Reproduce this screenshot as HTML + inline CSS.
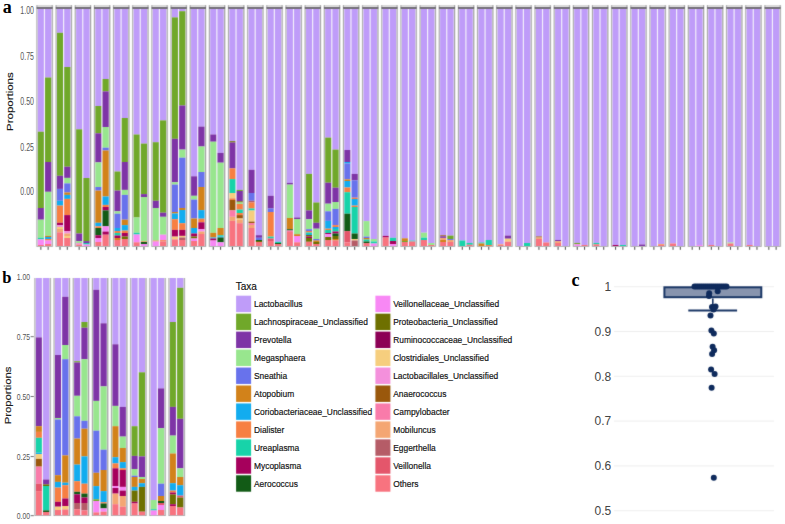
<!DOCTYPE html>
<html><head><meta charset="utf-8"><style>
html,body{margin:0;padding:0;background:#fff;}
svg{display:block;}
#w{width:785px;height:524px;}
</style></head><body><div id="w">
<svg width="785" height="524" viewBox="0 0 785 524" font-family="Liberation Sans, sans-serif">
<defs><filter id="bl" x="0" y="0" width="785" height="524" filterUnits="userSpaceOnUse" color-interpolation-filters="sRGB"><feConvolveMatrix order="3" kernelMatrix="0.015 0.07 0.015 0.07 0.66 0.07 0.015 0.07 0.015" edgeMode="duplicate"/></filter></defs>
<rect width="785" height="524" fill="#ffffff"/>
<g filter="url(#bl)">
<rect width="785" height="524" fill="#ffffff"/>
<rect x="35.95" y="8.70" width="17.40" height="238.10" fill="#E2E2E2"/>
<rect x="36.55" y="8.70" width="16.20" height="238.10" fill="#A8A8A8"/>
<rect x="37.45" y="8.70" width="14.20" height="237.30" fill="#F2EEFB"/>
<rect x="37.85" y="8.70" width="6.00" height="123.00" fill="#BF9CF9"/>
<rect x="37.85" y="131.70" width="6.00" height="76.30" fill="#70A82A"/>
<rect x="37.85" y="208.00" width="6.00" height="11.70" fill="#7E34A6"/>
<rect x="37.85" y="219.70" width="6.00" height="18.10" fill="#98E68E"/>
<rect x="37.85" y="237.80" width="6.00" height="1.60" fill="#17D3A9"/>
<rect x="37.85" y="239.40" width="6.00" height="5.60" fill="#F888F5"/>
<rect x="37.85" y="245.00" width="6.00" height="1.00" fill="#F8737F"/>
<rect x="40.30" y="246.90" width="1.10" height="2.90" fill="#5A5A5A"/>
<rect x="45.05" y="8.70" width="6.20" height="68.80" fill="#BF9CF9"/>
<rect x="45.05" y="77.50" width="6.20" height="84.50" fill="#70A82A"/>
<rect x="45.05" y="162.00" width="6.20" height="29.80" fill="#7E34A6"/>
<rect x="45.05" y="191.80" width="6.20" height="44.10" fill="#98E68E"/>
<rect x="45.05" y="235.90" width="6.20" height="1.10" fill="#D2821A"/>
<rect x="45.05" y="237.00" width="6.20" height="2.00" fill="#12ACEF"/>
<rect x="45.05" y="239.00" width="6.20" height="1.50" fill="#F77F42"/>
<rect x="45.05" y="240.50" width="6.20" height="3.50" fill="#F888F5"/>
<rect x="45.05" y="244.00" width="6.20" height="2.00" fill="#F8737F"/>
<rect x="47.60" y="246.90" width="1.10" height="2.90" fill="#5A5A5A"/>
<rect x="35.95" y="5.10" width="17.40" height="3.60" fill="#E2E2E2"/>
<rect x="36.55" y="5.10" width="16.20" height="3.60" fill="#A8A8A8"/>
<rect x="37.45" y="5.10" width="14.20" height="2.20" fill="#DEDEDE"/>
<rect x="36.55" y="7.30" width="16.20" height="1.40" fill="#57525F"/>
<rect x="55.11" y="8.70" width="17.40" height="238.10" fill="#E2E2E2"/>
<rect x="55.71" y="8.70" width="16.20" height="238.10" fill="#A8A8A8"/>
<rect x="56.61" y="8.70" width="14.20" height="237.30" fill="#F2EEFB"/>
<rect x="57.01" y="8.70" width="6.00" height="24.10" fill="#BF9CF9"/>
<rect x="57.01" y="32.80" width="6.00" height="143.00" fill="#70A82A"/>
<rect x="57.01" y="175.80" width="6.00" height="13.10" fill="#7E34A6"/>
<rect x="57.01" y="188.90" width="6.00" height="11.90" fill="#6872EC"/>
<rect x="57.01" y="200.80" width="6.00" height="4.80" fill="#12ACEF"/>
<rect x="57.01" y="205.60" width="6.00" height="17.20" fill="#F77F42"/>
<rect x="57.01" y="222.80" width="6.00" height="2.30" fill="#A6005C"/>
<rect x="57.01" y="225.10" width="6.00" height="1.90" fill="#F490DC"/>
<rect x="57.01" y="227.00" width="6.00" height="2.00" fill="#F6CE7E"/>
<rect x="57.01" y="229.00" width="6.00" height="3.30" fill="#F4A673"/>
<rect x="57.01" y="232.30" width="6.00" height="13.70" fill="#F8737F"/>
<rect x="59.46" y="246.90" width="1.10" height="2.90" fill="#5A5A5A"/>
<rect x="64.21" y="8.70" width="6.20" height="58.30" fill="#BF9CF9"/>
<rect x="64.21" y="67.00" width="6.20" height="99.70" fill="#70A82A"/>
<rect x="64.21" y="166.70" width="6.20" height="11.20" fill="#7E34A6"/>
<rect x="64.21" y="177.90" width="6.20" height="5.50" fill="#98E68E"/>
<rect x="64.21" y="183.40" width="6.20" height="9.10" fill="#6872EC"/>
<rect x="64.21" y="192.50" width="6.20" height="2.40" fill="#D2821A"/>
<rect x="64.21" y="194.90" width="6.20" height="4.00" fill="#12ACEF"/>
<rect x="64.21" y="198.90" width="6.20" height="16.20" fill="#F77F42"/>
<rect x="64.21" y="215.10" width="6.20" height="16.00" fill="#A6005C"/>
<rect x="64.21" y="231.10" width="6.20" height="2.40" fill="#F490DC"/>
<rect x="64.21" y="233.50" width="6.20" height="2.50" fill="#F4A673"/>
<rect x="64.21" y="236.00" width="6.20" height="2.00" fill="#F6CE7E"/>
<rect x="64.21" y="238.00" width="6.20" height="8.00" fill="#F8737F"/>
<rect x="66.76" y="246.90" width="1.10" height="2.90" fill="#5A5A5A"/>
<rect x="55.11" y="5.10" width="17.40" height="3.60" fill="#E2E2E2"/>
<rect x="55.71" y="5.10" width="16.20" height="3.60" fill="#A8A8A8"/>
<rect x="56.61" y="5.10" width="14.20" height="2.20" fill="#DEDEDE"/>
<rect x="55.71" y="7.30" width="16.20" height="1.40" fill="#57525F"/>
<rect x="74.26" y="8.70" width="17.40" height="238.10" fill="#E2E2E2"/>
<rect x="74.86" y="8.70" width="16.20" height="238.10" fill="#A8A8A8"/>
<rect x="75.76" y="8.70" width="14.20" height="237.30" fill="#F2EEFB"/>
<rect x="76.16" y="8.70" width="6.00" height="120.60" fill="#BF9CF9"/>
<rect x="76.16" y="129.30" width="6.00" height="104.20" fill="#70A82A"/>
<rect x="76.16" y="233.50" width="6.00" height="7.60" fill="#7E34A6"/>
<rect x="76.16" y="241.10" width="6.00" height="1.90" fill="#98E68E"/>
<rect x="76.16" y="243.00" width="6.00" height="1.50" fill="#F490DC"/>
<rect x="76.16" y="244.50" width="6.00" height="1.50" fill="#F8737F"/>
<rect x="78.61" y="246.90" width="1.10" height="2.90" fill="#5A5A5A"/>
<rect x="83.36" y="8.70" width="6.20" height="169.30" fill="#BF9CF9"/>
<rect x="83.36" y="178.00" width="6.20" height="63.10" fill="#70A82A"/>
<rect x="83.36" y="241.10" width="6.20" height="1.90" fill="#7E34A6"/>
<rect x="83.36" y="243.00" width="6.20" height="1.50" fill="#17D3A9"/>
<rect x="83.36" y="244.50" width="6.20" height="1.50" fill="#F888F5"/>
<rect x="85.91" y="246.90" width="1.10" height="2.90" fill="#5A5A5A"/>
<rect x="74.26" y="5.10" width="17.40" height="3.60" fill="#E2E2E2"/>
<rect x="74.86" y="5.10" width="16.20" height="3.60" fill="#A8A8A8"/>
<rect x="75.76" y="5.10" width="14.20" height="2.20" fill="#DEDEDE"/>
<rect x="74.86" y="7.30" width="16.20" height="1.40" fill="#57525F"/>
<rect x="93.42" y="8.70" width="17.40" height="238.10" fill="#E2E2E2"/>
<rect x="94.02" y="8.70" width="16.20" height="238.10" fill="#A8A8A8"/>
<rect x="94.92" y="8.70" width="14.20" height="237.30" fill="#F2EEFB"/>
<rect x="95.32" y="8.70" width="6.00" height="97.30" fill="#BF9CF9"/>
<rect x="95.32" y="106.00" width="6.00" height="27.30" fill="#70A82A"/>
<rect x="95.32" y="133.30" width="6.00" height="29.10" fill="#7E34A6"/>
<rect x="95.32" y="162.40" width="6.00" height="24.60" fill="#98E68E"/>
<rect x="95.32" y="187.00" width="6.00" height="3.60" fill="#6872EC"/>
<rect x="95.32" y="190.60" width="6.00" height="32.20" fill="#D2821A"/>
<rect x="95.32" y="222.80" width="6.00" height="3.50" fill="#12ACEF"/>
<rect x="95.32" y="226.30" width="6.00" height="1.70" fill="#F77F42"/>
<rect x="95.32" y="228.00" width="6.00" height="7.20" fill="#125B16"/>
<rect x="95.32" y="235.20" width="6.00" height="2.80" fill="#A6005C"/>
<rect x="95.32" y="238.00" width="6.00" height="4.00" fill="#F888F5"/>
<rect x="95.32" y="242.00" width="6.00" height="4.00" fill="#F8737F"/>
<rect x="97.77" y="246.90" width="1.10" height="2.90" fill="#5A5A5A"/>
<rect x="102.52" y="8.70" width="6.20" height="70.30" fill="#BF9CF9"/>
<rect x="102.52" y="79.00" width="6.20" height="12.40" fill="#70A82A"/>
<rect x="102.52" y="91.40" width="6.20" height="35.60" fill="#7E34A6"/>
<rect x="102.52" y="127.00" width="6.20" height="20.70" fill="#98E68E"/>
<rect x="102.52" y="147.70" width="6.20" height="2.80" fill="#6872EC"/>
<rect x="102.52" y="150.50" width="6.20" height="46.00" fill="#D2821A"/>
<rect x="102.52" y="196.50" width="6.20" height="8.40" fill="#12ACEF"/>
<rect x="102.52" y="204.90" width="6.20" height="2.10" fill="#F77F42"/>
<rect x="102.52" y="207.00" width="6.20" height="3.40" fill="#A6005C"/>
<rect x="102.52" y="210.40" width="6.20" height="15.90" fill="#125B16"/>
<rect x="102.52" y="226.30" width="6.20" height="5.30" fill="#F888F5"/>
<rect x="102.52" y="231.60" width="6.20" height="3.10" fill="#A6005C"/>
<rect x="102.52" y="234.70" width="6.20" height="11.30" fill="#F8737F"/>
<rect x="105.07" y="246.90" width="1.10" height="2.90" fill="#5A5A5A"/>
<rect x="93.42" y="5.10" width="17.40" height="3.60" fill="#E2E2E2"/>
<rect x="94.02" y="5.10" width="16.20" height="3.60" fill="#A8A8A8"/>
<rect x="94.92" y="5.10" width="14.20" height="2.20" fill="#DEDEDE"/>
<rect x="94.02" y="7.30" width="16.20" height="1.40" fill="#57525F"/>
<rect x="112.58" y="8.70" width="17.40" height="238.10" fill="#E2E2E2"/>
<rect x="113.18" y="8.70" width="16.20" height="238.10" fill="#A8A8A8"/>
<rect x="114.08" y="8.70" width="14.20" height="237.30" fill="#F2EEFB"/>
<rect x="114.48" y="8.70" width="6.00" height="162.80" fill="#BF9CF9"/>
<rect x="114.48" y="171.50" width="6.00" height="19.10" fill="#70A82A"/>
<rect x="114.48" y="190.60" width="6.00" height="20.70" fill="#7E34A6"/>
<rect x="114.48" y="211.30" width="6.00" height="2.40" fill="#98E68E"/>
<rect x="114.48" y="213.70" width="6.00" height="14.30" fill="#6872EC"/>
<rect x="114.48" y="228.00" width="6.00" height="3.00" fill="#12ACEF"/>
<rect x="114.48" y="231.00" width="6.00" height="2.00" fill="#F77F42"/>
<rect x="114.48" y="233.00" width="6.00" height="2.50" fill="#17D3A9"/>
<rect x="114.48" y="235.50" width="6.00" height="2.50" fill="#A6005C"/>
<rect x="114.48" y="238.00" width="6.00" height="2.00" fill="#D2821A"/>
<rect x="114.48" y="240.00" width="6.00" height="6.00" fill="#F8737F"/>
<rect x="116.93" y="246.90" width="1.10" height="2.90" fill="#5A5A5A"/>
<rect x="121.68" y="8.70" width="6.20" height="109.30" fill="#BF9CF9"/>
<rect x="121.68" y="118.00" width="6.20" height="44.00" fill="#70A82A"/>
<rect x="121.68" y="162.00" width="6.20" height="27.90" fill="#7E34A6"/>
<rect x="121.68" y="189.90" width="6.20" height="5.00" fill="#98E68E"/>
<rect x="121.68" y="194.90" width="6.20" height="24.80" fill="#6872EC"/>
<rect x="121.68" y="219.70" width="6.20" height="5.40" fill="#D2821A"/>
<rect x="121.68" y="225.10" width="6.20" height="5.50" fill="#12ACEF"/>
<rect x="121.68" y="230.60" width="6.20" height="2.40" fill="#F77F42"/>
<rect x="121.68" y="233.00" width="6.20" height="3.50" fill="#A6005C"/>
<rect x="121.68" y="236.50" width="6.20" height="2.50" fill="#6E7000"/>
<rect x="121.68" y="239.00" width="6.20" height="7.00" fill="#F8737F"/>
<rect x="124.23" y="246.90" width="1.10" height="2.90" fill="#5A5A5A"/>
<rect x="112.58" y="5.10" width="17.40" height="3.60" fill="#E2E2E2"/>
<rect x="113.18" y="5.10" width="16.20" height="3.60" fill="#A8A8A8"/>
<rect x="114.08" y="5.10" width="14.20" height="2.20" fill="#DEDEDE"/>
<rect x="113.18" y="7.30" width="16.20" height="1.40" fill="#57525F"/>
<rect x="131.74" y="8.70" width="17.40" height="238.10" fill="#E2E2E2"/>
<rect x="132.34" y="8.70" width="16.20" height="238.10" fill="#A8A8A8"/>
<rect x="133.24" y="8.70" width="14.20" height="237.30" fill="#F2EEFB"/>
<rect x="133.64" y="8.70" width="6.00" height="125.80" fill="#BF9CF9"/>
<rect x="133.64" y="134.50" width="6.00" height="83.00" fill="#70A82A"/>
<rect x="133.64" y="217.50" width="6.00" height="15.30" fill="#98E68E"/>
<rect x="133.64" y="232.80" width="6.00" height="1.70" fill="#17D3A9"/>
<rect x="133.64" y="234.50" width="6.00" height="7.80" fill="#F888F5"/>
<rect x="133.64" y="242.30" width="6.00" height="3.70" fill="#F8737F"/>
<rect x="136.09" y="246.90" width="1.10" height="2.90" fill="#5A5A5A"/>
<rect x="140.84" y="8.70" width="6.20" height="134.90" fill="#BF9CF9"/>
<rect x="140.84" y="143.60" width="6.20" height="50.50" fill="#70A82A"/>
<rect x="140.84" y="194.10" width="6.20" height="2.90" fill="#7E34A6"/>
<rect x="140.84" y="197.00" width="6.20" height="44.40" fill="#98E68E"/>
<rect x="140.84" y="241.40" width="6.20" height="0.60" fill="#F77F42"/>
<rect x="140.84" y="242.00" width="6.20" height="2.00" fill="#125B16"/>
<rect x="140.84" y="244.00" width="6.20" height="2.00" fill="#F888F5"/>
<rect x="143.38" y="246.90" width="1.10" height="2.90" fill="#5A5A5A"/>
<rect x="131.74" y="5.10" width="17.40" height="3.60" fill="#E2E2E2"/>
<rect x="132.34" y="5.10" width="16.20" height="3.60" fill="#A8A8A8"/>
<rect x="133.24" y="5.10" width="14.20" height="2.20" fill="#DEDEDE"/>
<rect x="132.34" y="7.30" width="16.20" height="1.40" fill="#57525F"/>
<rect x="150.89" y="8.70" width="17.40" height="238.10" fill="#E2E2E2"/>
<rect x="151.49" y="8.70" width="16.20" height="238.10" fill="#A8A8A8"/>
<rect x="152.39" y="8.70" width="14.20" height="237.30" fill="#F2EEFB"/>
<rect x="152.79" y="8.70" width="6.00" height="133.50" fill="#BF9CF9"/>
<rect x="152.79" y="142.20" width="6.00" height="58.60" fill="#70A82A"/>
<rect x="152.79" y="200.80" width="6.00" height="7.20" fill="#7E34A6"/>
<rect x="152.79" y="208.00" width="6.00" height="32.60" fill="#98E68E"/>
<rect x="152.79" y="240.60" width="6.00" height="0.90" fill="#F77F42"/>
<rect x="152.79" y="241.50" width="6.00" height="4.50" fill="#F888F5"/>
<rect x="155.24" y="246.90" width="1.10" height="2.90" fill="#5A5A5A"/>
<rect x="159.99" y="8.70" width="6.20" height="111.70" fill="#BF9CF9"/>
<rect x="159.99" y="120.40" width="6.20" height="92.30" fill="#70A82A"/>
<rect x="159.99" y="212.70" width="6.20" height="4.10" fill="#7E34A6"/>
<rect x="159.99" y="216.80" width="6.20" height="17.90" fill="#98E68E"/>
<rect x="159.99" y="234.70" width="6.20" height="5.50" fill="#F888F5"/>
<rect x="159.99" y="240.20" width="6.20" height="1.30" fill="#F77F42"/>
<rect x="159.99" y="241.50" width="6.20" height="4.50" fill="#F8737F"/>
<rect x="162.54" y="246.90" width="1.10" height="2.90" fill="#5A5A5A"/>
<rect x="150.89" y="5.10" width="17.40" height="3.60" fill="#E2E2E2"/>
<rect x="151.49" y="5.10" width="16.20" height="3.60" fill="#A8A8A8"/>
<rect x="152.39" y="5.10" width="14.20" height="2.20" fill="#DEDEDE"/>
<rect x="151.49" y="7.30" width="16.20" height="1.40" fill="#57525F"/>
<rect x="170.05" y="8.70" width="17.40" height="238.10" fill="#E2E2E2"/>
<rect x="170.65" y="8.70" width="16.20" height="238.10" fill="#A8A8A8"/>
<rect x="171.55" y="8.70" width="14.20" height="237.30" fill="#F2EEFB"/>
<rect x="171.95" y="8.70" width="6.00" height="8.70" fill="#BF9CF9"/>
<rect x="171.95" y="17.40" width="6.00" height="121.40" fill="#70A82A"/>
<rect x="171.95" y="138.80" width="6.00" height="43.40" fill="#7E34A6"/>
<rect x="171.95" y="182.20" width="6.00" height="2.40" fill="#98E68E"/>
<rect x="171.95" y="184.60" width="6.00" height="27.40" fill="#6872EC"/>
<rect x="171.95" y="212.00" width="6.00" height="1.50" fill="#D2821A"/>
<rect x="171.95" y="213.50" width="6.00" height="5.70" fill="#12ACEF"/>
<rect x="171.95" y="219.20" width="6.00" height="10.70" fill="#F77F42"/>
<rect x="171.95" y="229.90" width="6.00" height="6.70" fill="#A6005C"/>
<rect x="171.95" y="236.60" width="6.00" height="2.80" fill="#F6CE7E"/>
<rect x="171.95" y="239.40" width="6.00" height="6.60" fill="#F8737F"/>
<rect x="174.40" y="246.90" width="1.10" height="2.90" fill="#5A5A5A"/>
<rect x="179.15" y="8.70" width="6.20" height="2.50" fill="#BF9CF9"/>
<rect x="179.15" y="11.20" width="6.20" height="94.30" fill="#70A82A"/>
<rect x="179.15" y="105.50" width="6.20" height="44.10" fill="#7E34A6"/>
<rect x="179.15" y="149.60" width="6.20" height="8.10" fill="#98E68E"/>
<rect x="179.15" y="157.70" width="6.20" height="50.30" fill="#6872EC"/>
<rect x="179.15" y="208.00" width="6.20" height="2.00" fill="#D2821A"/>
<rect x="179.15" y="210.00" width="6.20" height="13.20" fill="#12ACEF"/>
<rect x="179.15" y="223.20" width="6.20" height="6.70" fill="#F77F42"/>
<rect x="179.15" y="229.90" width="6.20" height="6.00" fill="#A6005C"/>
<rect x="179.15" y="235.90" width="6.20" height="1.60" fill="#F6CE7E"/>
<rect x="179.15" y="237.50" width="6.20" height="2.50" fill="#B55C67"/>
<rect x="179.15" y="240.00" width="6.20" height="6.00" fill="#F8737F"/>
<rect x="181.70" y="246.90" width="1.10" height="2.90" fill="#5A5A5A"/>
<rect x="170.05" y="5.10" width="17.40" height="3.60" fill="#E2E2E2"/>
<rect x="170.65" y="5.10" width="16.20" height="3.60" fill="#A8A8A8"/>
<rect x="171.55" y="5.10" width="14.20" height="2.20" fill="#DEDEDE"/>
<rect x="170.65" y="7.30" width="16.20" height="1.40" fill="#57525F"/>
<rect x="189.21" y="8.70" width="17.40" height="238.10" fill="#E2E2E2"/>
<rect x="189.81" y="8.70" width="16.20" height="238.10" fill="#A8A8A8"/>
<rect x="190.71" y="8.70" width="14.20" height="237.30" fill="#F2EEFB"/>
<rect x="191.11" y="8.70" width="6.00" height="167.60" fill="#BF9CF9"/>
<rect x="191.11" y="176.30" width="6.00" height="19.50" fill="#7E34A6"/>
<rect x="191.11" y="195.80" width="6.00" height="3.80" fill="#98E68E"/>
<rect x="191.11" y="199.60" width="6.00" height="18.90" fill="#6872EC"/>
<rect x="191.11" y="218.50" width="6.00" height="9.50" fill="#D2821A"/>
<rect x="191.11" y="228.00" width="6.00" height="5.50" fill="#12ACEF"/>
<rect x="191.11" y="233.50" width="6.00" height="3.00" fill="#A6005C"/>
<rect x="191.11" y="236.50" width="6.00" height="2.00" fill="#6E7000"/>
<rect x="191.11" y="238.50" width="6.00" height="2.50" fill="#F888F5"/>
<rect x="191.11" y="241.00" width="6.00" height="5.00" fill="#F8737F"/>
<rect x="193.56" y="246.90" width="1.10" height="2.90" fill="#5A5A5A"/>
<rect x="198.31" y="8.70" width="6.20" height="117.90" fill="#BF9CF9"/>
<rect x="198.31" y="126.60" width="6.20" height="19.90" fill="#7E34A6"/>
<rect x="198.31" y="146.50" width="6.20" height="25.50" fill="#98E68E"/>
<rect x="198.31" y="172.00" width="6.20" height="15.00" fill="#6872EC"/>
<rect x="198.31" y="187.00" width="6.20" height="23.10" fill="#D2821A"/>
<rect x="198.31" y="210.10" width="6.20" height="8.60" fill="#12ACEF"/>
<rect x="198.31" y="218.70" width="6.20" height="3.60" fill="#F77F42"/>
<rect x="198.31" y="222.30" width="6.20" height="6.90" fill="#A6005C"/>
<rect x="198.31" y="229.20" width="6.20" height="2.30" fill="#F888F5"/>
<rect x="198.31" y="231.50" width="6.20" height="2.50" fill="#F4A673"/>
<rect x="198.31" y="234.00" width="6.20" height="12.00" fill="#F8737F"/>
<rect x="200.86" y="246.90" width="1.10" height="2.90" fill="#5A5A5A"/>
<rect x="189.21" y="5.10" width="17.40" height="3.60" fill="#E2E2E2"/>
<rect x="189.81" y="5.10" width="16.20" height="3.60" fill="#A8A8A8"/>
<rect x="190.71" y="5.10" width="14.20" height="2.20" fill="#DEDEDE"/>
<rect x="189.81" y="7.30" width="16.20" height="1.40" fill="#57525F"/>
<rect x="208.36" y="8.70" width="17.40" height="238.10" fill="#E2E2E2"/>
<rect x="208.96" y="8.70" width="16.20" height="238.10" fill="#A8A8A8"/>
<rect x="209.86" y="8.70" width="14.20" height="237.30" fill="#F2EEFB"/>
<rect x="210.26" y="8.70" width="6.00" height="125.80" fill="#BF9CF9"/>
<rect x="210.26" y="134.50" width="6.00" height="7.20" fill="#7E34A6"/>
<rect x="210.26" y="141.70" width="6.00" height="91.10" fill="#98E68E"/>
<rect x="210.26" y="232.80" width="6.00" height="4.70" fill="#D2821A"/>
<rect x="210.26" y="237.50" width="6.00" height="1.00" fill="#12ACEF"/>
<rect x="210.26" y="238.50" width="6.00" height="2.00" fill="#A6005C"/>
<rect x="210.26" y="240.50" width="6.00" height="5.50" fill="#F888F5"/>
<rect x="212.71" y="246.90" width="1.10" height="2.90" fill="#5A5A5A"/>
<rect x="217.46" y="8.70" width="6.20" height="144.20" fill="#BF9CF9"/>
<rect x="217.46" y="152.90" width="6.20" height="9.80" fill="#7E34A6"/>
<rect x="217.46" y="162.70" width="6.20" height="65.30" fill="#98E68E"/>
<rect x="217.46" y="228.00" width="6.20" height="7.20" fill="#D2821A"/>
<rect x="217.46" y="235.20" width="6.20" height="1.30" fill="#17D3A9"/>
<rect x="217.46" y="236.50" width="6.20" height="1.00" fill="#12ACEF"/>
<rect x="217.46" y="237.50" width="6.20" height="4.80" fill="#125B16"/>
<rect x="217.46" y="242.30" width="6.20" height="3.70" fill="#F888F5"/>
<rect x="220.01" y="246.90" width="1.10" height="2.90" fill="#5A5A5A"/>
<rect x="208.36" y="5.10" width="17.40" height="3.60" fill="#E2E2E2"/>
<rect x="208.96" y="5.10" width="16.20" height="3.60" fill="#A8A8A8"/>
<rect x="209.86" y="5.10" width="14.20" height="2.20" fill="#DEDEDE"/>
<rect x="208.96" y="7.30" width="16.20" height="1.40" fill="#57525F"/>
<rect x="227.52" y="8.70" width="17.40" height="238.10" fill="#E2E2E2"/>
<rect x="228.12" y="8.70" width="16.20" height="238.10" fill="#A8A8A8"/>
<rect x="229.02" y="8.70" width="14.20" height="237.30" fill="#F2EEFB"/>
<rect x="229.42" y="8.70" width="6.00" height="132.50" fill="#BF9CF9"/>
<rect x="229.42" y="141.20" width="6.00" height="1.30" fill="#6E7000"/>
<rect x="229.42" y="142.50" width="6.00" height="25.90" fill="#7E34A6"/>
<rect x="229.42" y="168.40" width="6.00" height="10.70" fill="#F77F42"/>
<rect x="229.42" y="179.10" width="6.00" height="13.90" fill="#17D3A9"/>
<rect x="229.42" y="193.00" width="6.00" height="5.40" fill="#F6CE7E"/>
<rect x="229.42" y="198.40" width="6.00" height="1.60" fill="#F77F42"/>
<rect x="229.42" y="200.00" width="6.00" height="10.40" fill="#9A580C"/>
<rect x="229.42" y="210.40" width="6.00" height="6.40" fill="#F97BAA"/>
<rect x="229.42" y="216.80" width="6.00" height="4.10" fill="#F4A673"/>
<rect x="229.42" y="220.90" width="6.00" height="25.10" fill="#F8737F"/>
<rect x="231.87" y="246.90" width="1.10" height="2.90" fill="#5A5A5A"/>
<rect x="236.62" y="8.70" width="6.20" height="181.20" fill="#BF9CF9"/>
<rect x="236.62" y="189.90" width="6.20" height="1.10" fill="#70A82A"/>
<rect x="236.62" y="191.00" width="6.20" height="10.30" fill="#7E34A6"/>
<rect x="236.62" y="201.30" width="6.20" height="1.20" fill="#6E7000"/>
<rect x="236.62" y="202.50" width="6.20" height="1.50" fill="#98E68E"/>
<rect x="236.62" y="204.00" width="6.20" height="5.60" fill="#F77F42"/>
<rect x="236.62" y="209.60" width="6.20" height="3.40" fill="#17D3A9"/>
<rect x="236.62" y="213.00" width="6.20" height="2.10" fill="#F77F42"/>
<rect x="236.62" y="215.10" width="6.20" height="3.40" fill="#9A580C"/>
<rect x="236.62" y="218.50" width="6.20" height="1.50" fill="#F6CE7E"/>
<rect x="236.62" y="220.00" width="6.20" height="3.20" fill="#F4A673"/>
<rect x="236.62" y="223.20" width="6.20" height="22.80" fill="#F8737F"/>
<rect x="239.17" y="246.90" width="1.10" height="2.90" fill="#5A5A5A"/>
<rect x="227.52" y="5.10" width="17.40" height="3.60" fill="#E2E2E2"/>
<rect x="228.12" y="5.10" width="16.20" height="3.60" fill="#A8A8A8"/>
<rect x="229.02" y="5.10" width="14.20" height="2.20" fill="#DEDEDE"/>
<rect x="228.12" y="7.30" width="16.20" height="1.40" fill="#57525F"/>
<rect x="246.68" y="8.70" width="17.40" height="238.10" fill="#E2E2E2"/>
<rect x="247.28" y="8.70" width="16.20" height="238.10" fill="#A8A8A8"/>
<rect x="248.18" y="8.70" width="14.20" height="237.30" fill="#F2EEFB"/>
<rect x="248.58" y="8.70" width="6.00" height="161.10" fill="#BF9CF9"/>
<rect x="248.58" y="169.80" width="6.00" height="23.20" fill="#7E34A6"/>
<rect x="248.58" y="193.00" width="6.00" height="7.80" fill="#6872EC"/>
<rect x="248.58" y="200.80" width="6.00" height="1.70" fill="#B55C67"/>
<rect x="248.58" y="202.50" width="6.00" height="6.00" fill="#F77F42"/>
<rect x="248.58" y="208.50" width="6.00" height="2.00" fill="#17D3A9"/>
<rect x="248.58" y="210.50" width="6.00" height="11.10" fill="#F6CE7E"/>
<rect x="248.58" y="221.60" width="6.00" height="1.40" fill="#9A580C"/>
<rect x="248.58" y="223.00" width="6.00" height="2.00" fill="#F97BAA"/>
<rect x="248.58" y="225.00" width="6.00" height="3.00" fill="#F4A673"/>
<rect x="248.58" y="228.00" width="6.00" height="18.00" fill="#F8737F"/>
<rect x="251.03" y="246.90" width="1.10" height="2.90" fill="#5A5A5A"/>
<rect x="255.78" y="8.70" width="6.20" height="226.50" fill="#BF9CF9"/>
<rect x="255.78" y="235.20" width="6.20" height="2.60" fill="#7E34A6"/>
<rect x="255.78" y="237.80" width="6.20" height="2.20" fill="#6872EC"/>
<rect x="255.78" y="240.00" width="6.20" height="1.00" fill="#125B16"/>
<rect x="255.78" y="241.00" width="6.20" height="1.00" fill="#6E7000"/>
<rect x="255.78" y="242.00" width="6.20" height="4.00" fill="#F8737F"/>
<rect x="258.33" y="246.90" width="1.10" height="2.90" fill="#5A5A5A"/>
<rect x="246.68" y="5.10" width="17.40" height="3.60" fill="#E2E2E2"/>
<rect x="247.28" y="5.10" width="16.20" height="3.60" fill="#A8A8A8"/>
<rect x="248.18" y="5.10" width="14.20" height="2.20" fill="#DEDEDE"/>
<rect x="247.28" y="7.30" width="16.20" height="1.40" fill="#57525F"/>
<rect x="265.83" y="8.70" width="17.40" height="238.10" fill="#E2E2E2"/>
<rect x="266.43" y="8.70" width="16.20" height="238.10" fill="#A8A8A8"/>
<rect x="267.33" y="8.70" width="14.20" height="237.30" fill="#F2EEFB"/>
<rect x="267.73" y="8.70" width="6.00" height="187.10" fill="#BF9CF9"/>
<rect x="267.73" y="195.80" width="6.00" height="12.70" fill="#7E34A6"/>
<rect x="267.73" y="208.50" width="6.00" height="3.50" fill="#6872EC"/>
<rect x="267.73" y="212.00" width="6.00" height="24.60" fill="#F77F42"/>
<rect x="267.73" y="236.60" width="6.00" height="1.90" fill="#17D3A9"/>
<rect x="267.73" y="238.50" width="6.00" height="2.50" fill="#E4566B"/>
<rect x="267.73" y="241.00" width="6.00" height="5.00" fill="#F8737F"/>
<rect x="270.18" y="246.90" width="1.10" height="2.90" fill="#5A5A5A"/>
<rect x="274.93" y="8.70" width="6.20" height="233.10" fill="#BF9CF9"/>
<rect x="274.93" y="241.80" width="6.20" height="1.20" fill="#17D3A9"/>
<rect x="274.93" y="243.00" width="6.20" height="1.00" fill="#125B16"/>
<rect x="274.93" y="244.00" width="6.20" height="2.00" fill="#F8737F"/>
<rect x="277.48" y="246.90" width="1.10" height="2.90" fill="#5A5A5A"/>
<rect x="265.83" y="5.10" width="17.40" height="3.60" fill="#E2E2E2"/>
<rect x="266.43" y="5.10" width="16.20" height="3.60" fill="#A8A8A8"/>
<rect x="267.33" y="5.10" width="14.20" height="2.20" fill="#DEDEDE"/>
<rect x="266.43" y="7.30" width="16.20" height="1.40" fill="#57525F"/>
<rect x="284.99" y="8.70" width="17.40" height="238.10" fill="#E2E2E2"/>
<rect x="285.59" y="8.70" width="16.20" height="238.10" fill="#A8A8A8"/>
<rect x="286.49" y="8.70" width="14.20" height="237.30" fill="#F2EEFB"/>
<rect x="286.89" y="8.70" width="6.00" height="174.20" fill="#BF9CF9"/>
<rect x="286.89" y="182.90" width="6.00" height="1.70" fill="#7E34A6"/>
<rect x="286.89" y="184.60" width="6.00" height="33.40" fill="#98E68E"/>
<rect x="286.89" y="218.00" width="6.00" height="11.20" fill="#D2821A"/>
<rect x="286.89" y="229.20" width="6.00" height="1.30" fill="#125B16"/>
<rect x="286.89" y="230.50" width="6.00" height="1.50" fill="#F97BAA"/>
<rect x="286.89" y="232.00" width="6.00" height="14.00" fill="#F8737F"/>
<rect x="289.34" y="246.90" width="1.10" height="2.90" fill="#5A5A5A"/>
<rect x="294.09" y="8.70" width="6.20" height="208.80" fill="#BF9CF9"/>
<rect x="294.09" y="217.50" width="6.20" height="1.50" fill="#7E34A6"/>
<rect x="294.09" y="219.00" width="6.20" height="15.20" fill="#98E68E"/>
<rect x="294.09" y="234.20" width="6.20" height="1.80" fill="#D2821A"/>
<rect x="294.09" y="236.00" width="6.20" height="6.30" fill="#F888F5"/>
<rect x="294.09" y="242.30" width="6.20" height="3.70" fill="#F8737F"/>
<rect x="296.64" y="246.90" width="1.10" height="2.90" fill="#5A5A5A"/>
<rect x="284.99" y="5.10" width="17.40" height="3.60" fill="#E2E2E2"/>
<rect x="285.59" y="5.10" width="16.20" height="3.60" fill="#A8A8A8"/>
<rect x="286.49" y="5.10" width="14.20" height="2.20" fill="#DEDEDE"/>
<rect x="285.59" y="7.30" width="16.20" height="1.40" fill="#57525F"/>
<rect x="304.15" y="8.70" width="17.40" height="238.10" fill="#E2E2E2"/>
<rect x="304.75" y="8.70" width="16.20" height="238.10" fill="#A8A8A8"/>
<rect x="305.65" y="8.70" width="14.20" height="237.30" fill="#F2EEFB"/>
<rect x="306.05" y="8.70" width="6.00" height="165.20" fill="#BF9CF9"/>
<rect x="306.05" y="173.90" width="6.00" height="36.50" fill="#70A82A"/>
<rect x="306.05" y="210.40" width="6.00" height="8.80" fill="#7E34A6"/>
<rect x="306.05" y="219.20" width="6.00" height="10.00" fill="#98E68E"/>
<rect x="306.05" y="229.20" width="6.00" height="1.80" fill="#6872EC"/>
<rect x="306.05" y="231.00" width="6.00" height="1.50" fill="#F77F42"/>
<rect x="306.05" y="232.50" width="6.00" height="1.50" fill="#17D3A9"/>
<rect x="306.05" y="234.00" width="6.00" height="1.00" fill="#12ACEF"/>
<rect x="306.05" y="235.00" width="6.00" height="1.60" fill="#6E7000"/>
<rect x="306.05" y="236.60" width="6.00" height="1.40" fill="#A6005C"/>
<rect x="306.05" y="238.00" width="6.00" height="3.80" fill="#6E7000"/>
<rect x="306.05" y="241.80" width="6.00" height="4.20" fill="#F8737F"/>
<rect x="308.50" y="246.90" width="1.10" height="2.90" fill="#5A5A5A"/>
<rect x="313.25" y="8.70" width="6.20" height="193.80" fill="#BF9CF9"/>
<rect x="313.25" y="202.50" width="6.20" height="20.30" fill="#70A82A"/>
<rect x="313.25" y="222.80" width="6.20" height="5.90" fill="#7E34A6"/>
<rect x="313.25" y="228.70" width="6.20" height="10.30" fill="#98E68E"/>
<rect x="313.25" y="239.00" width="6.20" height="1.50" fill="#6872EC"/>
<rect x="313.25" y="240.50" width="6.20" height="1.50" fill="#D2821A"/>
<rect x="313.25" y="242.00" width="6.20" height="2.00" fill="#6E7000"/>
<rect x="313.25" y="244.00" width="6.20" height="2.00" fill="#F8737F"/>
<rect x="315.80" y="246.90" width="1.10" height="2.90" fill="#5A5A5A"/>
<rect x="304.15" y="5.10" width="17.40" height="3.60" fill="#E2E2E2"/>
<rect x="304.75" y="5.10" width="16.20" height="3.60" fill="#A8A8A8"/>
<rect x="305.65" y="5.10" width="14.20" height="2.20" fill="#DEDEDE"/>
<rect x="304.75" y="7.30" width="16.20" height="1.40" fill="#57525F"/>
<rect x="323.31" y="8.70" width="17.40" height="238.10" fill="#E2E2E2"/>
<rect x="323.91" y="8.70" width="16.20" height="238.10" fill="#A8A8A8"/>
<rect x="324.81" y="8.70" width="14.20" height="237.30" fill="#F2EEFB"/>
<rect x="325.20" y="8.70" width="6.00" height="128.90" fill="#BF9CF9"/>
<rect x="325.20" y="137.60" width="6.00" height="45.10" fill="#70A82A"/>
<rect x="325.20" y="182.70" width="6.00" height="21.00" fill="#7E34A6"/>
<rect x="325.20" y="203.70" width="6.00" height="7.60" fill="#98E68E"/>
<rect x="325.20" y="211.30" width="6.00" height="9.60" fill="#6872EC"/>
<rect x="325.20" y="220.90" width="6.00" height="7.80" fill="#12ACEF"/>
<rect x="325.20" y="228.70" width="6.00" height="1.30" fill="#F77F42"/>
<rect x="325.20" y="230.00" width="6.00" height="3.00" fill="#17D3A9"/>
<rect x="325.20" y="233.00" width="6.00" height="1.20" fill="#A6005C"/>
<rect x="325.20" y="234.20" width="6.00" height="2.80" fill="#F888F5"/>
<rect x="325.20" y="237.00" width="6.00" height="3.00" fill="#6E7000"/>
<rect x="325.20" y="240.00" width="6.00" height="6.00" fill="#F8737F"/>
<rect x="327.65" y="246.90" width="1.10" height="2.90" fill="#5A5A5A"/>
<rect x="332.41" y="8.70" width="6.20" height="140.90" fill="#BF9CF9"/>
<rect x="332.41" y="149.60" width="6.20" height="38.10" fill="#70A82A"/>
<rect x="332.41" y="187.70" width="6.20" height="14.30" fill="#7E34A6"/>
<rect x="332.41" y="202.00" width="6.20" height="6.90" fill="#98E68E"/>
<rect x="332.41" y="208.90" width="6.20" height="16.20" fill="#6872EC"/>
<rect x="332.41" y="225.10" width="6.20" height="1.90" fill="#F77F42"/>
<rect x="332.41" y="227.00" width="6.20" height="2.00" fill="#12ACEF"/>
<rect x="332.41" y="229.00" width="6.20" height="2.50" fill="#17D3A9"/>
<rect x="332.41" y="231.50" width="6.20" height="2.00" fill="#A6005C"/>
<rect x="332.41" y="233.50" width="6.20" height="2.50" fill="#125B16"/>
<rect x="332.41" y="236.00" width="6.20" height="3.00" fill="#6E7000"/>
<rect x="332.41" y="239.00" width="6.20" height="1.50" fill="#D2821A"/>
<rect x="332.41" y="240.50" width="6.20" height="5.50" fill="#F8737F"/>
<rect x="334.95" y="246.90" width="1.10" height="2.90" fill="#5A5A5A"/>
<rect x="323.31" y="5.10" width="17.40" height="3.60" fill="#E2E2E2"/>
<rect x="323.91" y="5.10" width="16.20" height="3.60" fill="#A8A8A8"/>
<rect x="324.81" y="5.10" width="14.20" height="2.20" fill="#DEDEDE"/>
<rect x="323.91" y="7.30" width="16.20" height="1.40" fill="#57525F"/>
<rect x="342.46" y="8.70" width="17.40" height="238.10" fill="#E2E2E2"/>
<rect x="343.06" y="8.70" width="16.20" height="238.10" fill="#A8A8A8"/>
<rect x="343.96" y="8.70" width="14.20" height="237.30" fill="#F2EEFB"/>
<rect x="344.36" y="8.70" width="6.00" height="141.30" fill="#BF9CF9"/>
<rect x="344.36" y="150.00" width="6.00" height="12.00" fill="#7E34A6"/>
<rect x="344.36" y="162.00" width="6.00" height="1.50" fill="#12ACEF"/>
<rect x="344.36" y="163.50" width="6.00" height="15.90" fill="#6872EC"/>
<rect x="344.36" y="179.40" width="6.00" height="1.60" fill="#D2821A"/>
<rect x="344.36" y="181.00" width="6.00" height="6.50" fill="#12ACEF"/>
<rect x="344.36" y="187.50" width="6.00" height="4.70" fill="#F77F42"/>
<rect x="344.36" y="192.20" width="6.00" height="21.50" fill="#17D3A9"/>
<rect x="344.36" y="213.70" width="6.00" height="17.40" fill="#125B16"/>
<rect x="344.36" y="231.10" width="6.00" height="11.20" fill="#E4566B"/>
<rect x="344.36" y="242.30" width="6.00" height="3.70" fill="#F8737F"/>
<rect x="346.81" y="246.90" width="1.10" height="2.90" fill="#5A5A5A"/>
<rect x="351.56" y="8.70" width="6.20" height="165.20" fill="#BF9CF9"/>
<rect x="351.56" y="173.90" width="6.20" height="6.40" fill="#7E34A6"/>
<rect x="351.56" y="180.30" width="6.20" height="17.40" fill="#6872EC"/>
<rect x="351.56" y="197.70" width="6.20" height="1.30" fill="#F77F42"/>
<rect x="351.56" y="199.00" width="6.20" height="6.60" fill="#12ACEF"/>
<rect x="351.56" y="205.60" width="6.20" height="1.40" fill="#F77F42"/>
<rect x="351.56" y="207.00" width="6.20" height="26.50" fill="#17D3A9"/>
<rect x="351.56" y="233.50" width="6.20" height="5.50" fill="#125B16"/>
<rect x="351.56" y="239.00" width="6.20" height="1.50" fill="#F6CE7E"/>
<rect x="351.56" y="240.50" width="6.20" height="5.50" fill="#B55C67"/>
<rect x="354.11" y="246.90" width="1.10" height="2.90" fill="#5A5A5A"/>
<rect x="342.46" y="5.10" width="17.40" height="3.60" fill="#E2E2E2"/>
<rect x="343.06" y="5.10" width="16.20" height="3.60" fill="#A8A8A8"/>
<rect x="343.96" y="5.10" width="14.20" height="2.20" fill="#DEDEDE"/>
<rect x="343.06" y="7.30" width="16.20" height="1.40" fill="#57525F"/>
<rect x="361.62" y="8.70" width="17.40" height="238.10" fill="#E2E2E2"/>
<rect x="362.22" y="8.70" width="16.20" height="238.10" fill="#A8A8A8"/>
<rect x="363.12" y="8.70" width="14.20" height="237.30" fill="#F2EEFB"/>
<rect x="363.52" y="8.70" width="6.00" height="212.40" fill="#BF9CF9"/>
<rect x="363.52" y="221.10" width="6.00" height="15.50" fill="#98E68E"/>
<rect x="363.52" y="236.60" width="6.00" height="1.40" fill="#6872EC"/>
<rect x="363.52" y="238.00" width="6.00" height="1.50" fill="#D2821A"/>
<rect x="363.52" y="239.50" width="6.00" height="2.00" fill="#17D3A9"/>
<rect x="363.52" y="241.50" width="6.00" height="1.50" fill="#125B16"/>
<rect x="363.52" y="243.00" width="6.00" height="3.00" fill="#F8737F"/>
<rect x="365.97" y="246.90" width="1.10" height="2.90" fill="#5A5A5A"/>
<rect x="370.72" y="8.70" width="6.20" height="230.30" fill="#BF9CF9"/>
<rect x="370.72" y="239.00" width="6.20" height="2.50" fill="#98E68E"/>
<rect x="370.72" y="241.50" width="6.20" height="2.00" fill="#17D3A9"/>
<rect x="370.72" y="243.50" width="6.20" height="2.50" fill="#F888F5"/>
<rect x="373.27" y="246.90" width="1.10" height="2.90" fill="#5A5A5A"/>
<rect x="361.62" y="5.10" width="17.40" height="3.60" fill="#E2E2E2"/>
<rect x="362.22" y="5.10" width="16.20" height="3.60" fill="#A8A8A8"/>
<rect x="363.12" y="5.10" width="14.20" height="2.20" fill="#DEDEDE"/>
<rect x="362.22" y="7.30" width="16.20" height="1.40" fill="#57525F"/>
<rect x="380.78" y="8.70" width="17.40" height="238.10" fill="#E2E2E2"/>
<rect x="381.38" y="8.70" width="16.20" height="238.10" fill="#A8A8A8"/>
<rect x="382.28" y="8.70" width="14.20" height="237.30" fill="#F2EEFB"/>
<rect x="382.68" y="8.70" width="6.00" height="227.20" fill="#BF9CF9"/>
<rect x="382.68" y="235.90" width="6.00" height="1.60" fill="#A6005C"/>
<rect x="382.68" y="237.50" width="6.00" height="8.50" fill="#F8737F"/>
<rect x="385.13" y="246.90" width="1.10" height="2.90" fill="#5A5A5A"/>
<rect x="389.88" y="8.70" width="6.20" height="229.10" fill="#BF9CF9"/>
<rect x="389.88" y="237.80" width="6.20" height="3.20" fill="#17D3A9"/>
<rect x="389.88" y="241.00" width="6.20" height="3.00" fill="#A6005C"/>
<rect x="389.88" y="244.00" width="6.20" height="2.00" fill="#F888F5"/>
<rect x="392.43" y="246.90" width="1.10" height="2.90" fill="#5A5A5A"/>
<rect x="380.78" y="5.10" width="17.40" height="3.60" fill="#E2E2E2"/>
<rect x="381.38" y="5.10" width="16.20" height="3.60" fill="#A8A8A8"/>
<rect x="382.28" y="5.10" width="14.20" height="2.20" fill="#DEDEDE"/>
<rect x="381.38" y="7.30" width="16.20" height="1.40" fill="#57525F"/>
<rect x="399.93" y="8.70" width="17.40" height="238.10" fill="#E2E2E2"/>
<rect x="400.53" y="8.70" width="16.20" height="238.10" fill="#A8A8A8"/>
<rect x="401.43" y="8.70" width="14.20" height="237.30" fill="#F2EEFB"/>
<rect x="401.83" y="8.70" width="6.00" height="229.60" fill="#BF9CF9"/>
<rect x="401.83" y="238.30" width="6.00" height="2.70" fill="#D2821A"/>
<rect x="401.83" y="241.00" width="6.00" height="1.00" fill="#70A82A"/>
<rect x="401.83" y="242.00" width="6.00" height="4.00" fill="#F8737F"/>
<rect x="404.28" y="246.90" width="1.10" height="2.90" fill="#5A5A5A"/>
<rect x="409.03" y="8.70" width="6.20" height="231.90" fill="#BF9CF9"/>
<rect x="409.03" y="240.60" width="6.20" height="0.90" fill="#17D3A9"/>
<rect x="409.03" y="241.50" width="6.20" height="4.50" fill="#F8737F"/>
<rect x="411.58" y="246.90" width="1.10" height="2.90" fill="#5A5A5A"/>
<rect x="399.93" y="5.10" width="17.40" height="3.60" fill="#E2E2E2"/>
<rect x="400.53" y="5.10" width="16.20" height="3.60" fill="#A8A8A8"/>
<rect x="401.43" y="5.10" width="14.20" height="2.20" fill="#DEDEDE"/>
<rect x="400.53" y="7.30" width="16.20" height="1.40" fill="#57525F"/>
<rect x="419.09" y="8.70" width="17.40" height="238.10" fill="#E2E2E2"/>
<rect x="419.69" y="8.70" width="16.20" height="238.10" fill="#A8A8A8"/>
<rect x="420.59" y="8.70" width="14.20" height="237.30" fill="#F2EEFB"/>
<rect x="420.99" y="8.70" width="6.00" height="224.00" fill="#BF9CF9"/>
<rect x="420.99" y="232.70" width="6.00" height="5.00" fill="#98E68E"/>
<rect x="420.99" y="237.70" width="6.00" height="2.30" fill="#17D3A9"/>
<rect x="420.99" y="240.00" width="6.00" height="6.00" fill="#F8737F"/>
<rect x="423.44" y="246.90" width="1.10" height="2.90" fill="#5A5A5A"/>
<rect x="428.19" y="8.70" width="6.20" height="234.30" fill="#BF9CF9"/>
<rect x="428.19" y="243.00" width="6.20" height="2.00" fill="#98E68E"/>
<rect x="428.19" y="245.00" width="6.20" height="1.00" fill="#F8737F"/>
<rect x="430.74" y="246.90" width="1.10" height="2.90" fill="#5A5A5A"/>
<rect x="419.09" y="5.10" width="17.40" height="3.60" fill="#E2E2E2"/>
<rect x="419.69" y="5.10" width="16.20" height="3.60" fill="#A8A8A8"/>
<rect x="420.59" y="5.10" width="14.20" height="2.20" fill="#DEDEDE"/>
<rect x="419.69" y="7.30" width="16.20" height="1.40" fill="#57525F"/>
<rect x="438.25" y="8.70" width="17.40" height="238.10" fill="#E2E2E2"/>
<rect x="438.85" y="8.70" width="16.20" height="238.10" fill="#A8A8A8"/>
<rect x="439.75" y="8.70" width="14.20" height="237.30" fill="#F2EEFB"/>
<rect x="440.15" y="8.70" width="6.00" height="226.60" fill="#BF9CF9"/>
<rect x="440.15" y="235.30" width="6.00" height="1.00" fill="#9A580C"/>
<rect x="440.15" y="236.30" width="6.00" height="1.60" fill="#7E34A6"/>
<rect x="440.15" y="237.90" width="6.00" height="2.10" fill="#F4A673"/>
<rect x="440.15" y="240.00" width="6.00" height="2.00" fill="#D2821A"/>
<rect x="440.15" y="242.00" width="6.00" height="4.00" fill="#F8737F"/>
<rect x="442.60" y="246.90" width="1.10" height="2.90" fill="#5A5A5A"/>
<rect x="447.35" y="8.70" width="6.20" height="226.90" fill="#BF9CF9"/>
<rect x="447.35" y="235.60" width="6.20" height="3.40" fill="#70A82A"/>
<rect x="447.35" y="239.00" width="6.20" height="1.00" fill="#6872EC"/>
<rect x="447.35" y="240.00" width="6.20" height="2.00" fill="#F4A673"/>
<rect x="447.35" y="242.00" width="6.20" height="4.00" fill="#F8737F"/>
<rect x="449.90" y="246.90" width="1.10" height="2.90" fill="#5A5A5A"/>
<rect x="438.25" y="5.10" width="17.40" height="3.60" fill="#E2E2E2"/>
<rect x="438.85" y="5.10" width="16.20" height="3.60" fill="#A8A8A8"/>
<rect x="439.75" y="5.10" width="14.20" height="2.20" fill="#DEDEDE"/>
<rect x="438.85" y="7.30" width="16.20" height="1.40" fill="#57525F"/>
<rect x="457.40" y="8.70" width="17.40" height="238.10" fill="#E2E2E2"/>
<rect x="458.00" y="8.70" width="16.20" height="238.10" fill="#A8A8A8"/>
<rect x="458.90" y="8.70" width="14.20" height="237.30" fill="#F2EEFB"/>
<rect x="459.30" y="8.70" width="6.00" height="231.80" fill="#BF9CF9"/>
<rect x="459.30" y="240.50" width="6.00" height="5.50" fill="#17D3A9"/>
<rect x="461.75" y="246.90" width="1.10" height="2.90" fill="#5A5A5A"/>
<rect x="466.50" y="8.70" width="6.20" height="234.20" fill="#BF9CF9"/>
<rect x="466.50" y="242.90" width="6.20" height="1.90" fill="#17D3A9"/>
<rect x="466.50" y="244.80" width="6.20" height="1.20" fill="#F8737F"/>
<rect x="469.05" y="246.90" width="1.10" height="2.90" fill="#5A5A5A"/>
<rect x="457.40" y="5.10" width="17.40" height="3.60" fill="#E2E2E2"/>
<rect x="458.00" y="5.10" width="16.20" height="3.60" fill="#A8A8A8"/>
<rect x="458.90" y="5.10" width="14.20" height="2.20" fill="#DEDEDE"/>
<rect x="458.00" y="7.30" width="16.20" height="1.40" fill="#57525F"/>
<rect x="476.56" y="8.70" width="17.40" height="238.10" fill="#E2E2E2"/>
<rect x="477.16" y="8.70" width="16.20" height="238.10" fill="#A8A8A8"/>
<rect x="478.06" y="8.70" width="14.20" height="237.30" fill="#F2EEFB"/>
<rect x="478.46" y="8.70" width="6.00" height="233.80" fill="#BF9CF9"/>
<rect x="478.46" y="242.50" width="6.00" height="1.00" fill="#17D3A9"/>
<rect x="478.46" y="243.50" width="6.00" height="2.50" fill="#D2821A"/>
<rect x="480.91" y="246.90" width="1.10" height="2.90" fill="#5A5A5A"/>
<rect x="485.66" y="8.70" width="6.20" height="231.30" fill="#BF9CF9"/>
<rect x="485.66" y="240.00" width="6.20" height="5.00" fill="#17D3A9"/>
<rect x="485.66" y="245.00" width="6.20" height="1.00" fill="#F77F42"/>
<rect x="488.21" y="246.90" width="1.10" height="2.90" fill="#5A5A5A"/>
<rect x="476.56" y="5.10" width="17.40" height="3.60" fill="#E2E2E2"/>
<rect x="477.16" y="5.10" width="16.20" height="3.60" fill="#A8A8A8"/>
<rect x="478.06" y="5.10" width="14.20" height="2.20" fill="#DEDEDE"/>
<rect x="477.16" y="7.30" width="16.20" height="1.40" fill="#57525F"/>
<rect x="495.72" y="8.70" width="17.40" height="238.10" fill="#E2E2E2"/>
<rect x="496.32" y="8.70" width="16.20" height="238.10" fill="#A8A8A8"/>
<rect x="497.22" y="8.70" width="14.20" height="237.30" fill="#F2EEFB"/>
<rect x="497.62" y="8.70" width="6.00" height="235.50" fill="#BF9CF9"/>
<rect x="497.62" y="244.20" width="6.00" height="0.80" fill="#F4A673"/>
<rect x="497.62" y="245.00" width="6.00" height="1.00" fill="#F8737F"/>
<rect x="500.07" y="246.90" width="1.10" height="2.90" fill="#5A5A5A"/>
<rect x="504.82" y="8.70" width="6.20" height="226.90" fill="#BF9CF9"/>
<rect x="504.82" y="235.60" width="6.20" height="3.10" fill="#7E34A6"/>
<rect x="504.82" y="238.70" width="6.20" height="3.00" fill="#F6CE7E"/>
<rect x="504.82" y="241.70" width="6.20" height="4.30" fill="#F8737F"/>
<rect x="507.37" y="246.90" width="1.10" height="2.90" fill="#5A5A5A"/>
<rect x="495.72" y="5.10" width="17.40" height="3.60" fill="#E2E2E2"/>
<rect x="496.32" y="5.10" width="16.20" height="3.60" fill="#A8A8A8"/>
<rect x="497.22" y="5.10" width="14.20" height="2.20" fill="#DEDEDE"/>
<rect x="496.32" y="7.30" width="16.20" height="1.40" fill="#57525F"/>
<rect x="514.88" y="8.70" width="17.40" height="238.10" fill="#E2E2E2"/>
<rect x="515.48" y="8.70" width="16.20" height="238.10" fill="#A8A8A8"/>
<rect x="516.38" y="8.70" width="14.20" height="237.30" fill="#F2EEFB"/>
<rect x="516.77" y="8.70" width="6.00" height="237.30" fill="#BF9CF9"/>
<rect x="519.23" y="246.90" width="1.10" height="2.90" fill="#5A5A5A"/>
<rect x="523.98" y="8.70" width="6.20" height="234.30" fill="#BF9CF9"/>
<rect x="523.98" y="243.00" width="6.20" height="3.00" fill="#17D3A9"/>
<rect x="526.53" y="246.90" width="1.10" height="2.90" fill="#5A5A5A"/>
<rect x="514.88" y="5.10" width="17.40" height="3.60" fill="#E2E2E2"/>
<rect x="515.48" y="5.10" width="16.20" height="3.60" fill="#A8A8A8"/>
<rect x="516.38" y="5.10" width="14.20" height="2.20" fill="#DEDEDE"/>
<rect x="515.48" y="7.30" width="16.20" height="1.40" fill="#57525F"/>
<rect x="534.03" y="8.70" width="17.40" height="238.10" fill="#E2E2E2"/>
<rect x="534.63" y="8.70" width="16.20" height="238.10" fill="#A8A8A8"/>
<rect x="535.53" y="8.70" width="14.20" height="237.30" fill="#F2EEFB"/>
<rect x="535.93" y="8.70" width="6.00" height="227.80" fill="#BF9CF9"/>
<rect x="535.93" y="236.50" width="6.00" height="1.00" fill="#9A580C"/>
<rect x="535.93" y="237.50" width="6.00" height="1.50" fill="#F4A673"/>
<rect x="535.93" y="239.00" width="6.00" height="7.00" fill="#F8737F"/>
<rect x="538.38" y="246.90" width="1.10" height="2.90" fill="#5A5A5A"/>
<rect x="543.13" y="8.70" width="6.20" height="233.80" fill="#BF9CF9"/>
<rect x="543.13" y="242.50" width="6.20" height="3.50" fill="#F8737F"/>
<rect x="545.68" y="246.90" width="1.10" height="2.90" fill="#5A5A5A"/>
<rect x="534.03" y="5.10" width="17.40" height="3.60" fill="#E2E2E2"/>
<rect x="534.63" y="5.10" width="16.20" height="3.60" fill="#A8A8A8"/>
<rect x="535.53" y="5.10" width="14.20" height="2.20" fill="#DEDEDE"/>
<rect x="534.63" y="7.30" width="16.20" height="1.40" fill="#57525F"/>
<rect x="553.19" y="8.70" width="17.40" height="238.10" fill="#E2E2E2"/>
<rect x="553.79" y="8.70" width="16.20" height="238.10" fill="#A8A8A8"/>
<rect x="554.69" y="8.70" width="14.20" height="237.30" fill="#F2EEFB"/>
<rect x="555.09" y="8.70" width="6.00" height="231.30" fill="#BF9CF9"/>
<rect x="555.09" y="240.00" width="6.00" height="1.20" fill="#7E34A6"/>
<rect x="555.09" y="241.20" width="6.00" height="1.80" fill="#F4A673"/>
<rect x="555.09" y="243.00" width="6.00" height="3.00" fill="#F8737F"/>
<rect x="557.54" y="246.90" width="1.10" height="2.90" fill="#5A5A5A"/>
<rect x="562.29" y="8.70" width="6.20" height="237.30" fill="#BF9CF9"/>
<rect x="564.84" y="246.90" width="1.10" height="2.90" fill="#5A5A5A"/>
<rect x="553.19" y="5.10" width="17.40" height="3.60" fill="#E2E2E2"/>
<rect x="553.79" y="5.10" width="16.20" height="3.60" fill="#A8A8A8"/>
<rect x="554.69" y="5.10" width="14.20" height="2.20" fill="#DEDEDE"/>
<rect x="553.79" y="7.30" width="16.20" height="1.40" fill="#57525F"/>
<rect x="572.35" y="8.70" width="17.40" height="238.10" fill="#E2E2E2"/>
<rect x="572.95" y="8.70" width="16.20" height="238.10" fill="#A8A8A8"/>
<rect x="573.85" y="8.70" width="14.20" height="237.30" fill="#F2EEFB"/>
<rect x="574.25" y="8.70" width="6.00" height="234.20" fill="#BF9CF9"/>
<rect x="574.25" y="242.90" width="6.00" height="1.40" fill="#70A82A"/>
<rect x="574.25" y="244.30" width="6.00" height="1.70" fill="#F888F5"/>
<rect x="576.70" y="246.90" width="1.10" height="2.90" fill="#5A5A5A"/>
<rect x="581.45" y="8.70" width="6.20" height="236.30" fill="#BF9CF9"/>
<rect x="581.45" y="245.00" width="6.20" height="1.00" fill="#F8737F"/>
<rect x="584.00" y="246.90" width="1.10" height="2.90" fill="#5A5A5A"/>
<rect x="572.35" y="5.10" width="17.40" height="3.60" fill="#E2E2E2"/>
<rect x="572.95" y="5.10" width="16.20" height="3.60" fill="#A8A8A8"/>
<rect x="573.85" y="5.10" width="14.20" height="2.20" fill="#DEDEDE"/>
<rect x="572.95" y="7.30" width="16.20" height="1.40" fill="#57525F"/>
<rect x="591.50" y="8.70" width="17.40" height="238.10" fill="#E2E2E2"/>
<rect x="592.10" y="8.70" width="16.20" height="238.10" fill="#A8A8A8"/>
<rect x="593.00" y="8.70" width="14.20" height="237.30" fill="#F2EEFB"/>
<rect x="593.40" y="8.70" width="6.00" height="234.20" fill="#BF9CF9"/>
<rect x="593.40" y="242.90" width="6.00" height="1.40" fill="#17D3A9"/>
<rect x="593.40" y="244.30" width="6.00" height="1.70" fill="#F8737F"/>
<rect x="595.85" y="246.90" width="1.10" height="2.90" fill="#5A5A5A"/>
<rect x="600.60" y="8.70" width="6.20" height="237.30" fill="#BF9CF9"/>
<rect x="603.15" y="246.90" width="1.10" height="2.90" fill="#5A5A5A"/>
<rect x="591.50" y="5.10" width="17.40" height="3.60" fill="#E2E2E2"/>
<rect x="592.10" y="5.10" width="16.20" height="3.60" fill="#A8A8A8"/>
<rect x="593.00" y="5.10" width="14.20" height="2.20" fill="#DEDEDE"/>
<rect x="592.10" y="7.30" width="16.20" height="1.40" fill="#57525F"/>
<rect x="610.66" y="8.70" width="17.40" height="238.10" fill="#E2E2E2"/>
<rect x="611.26" y="8.70" width="16.20" height="238.10" fill="#A8A8A8"/>
<rect x="612.16" y="8.70" width="14.20" height="237.30" fill="#F2EEFB"/>
<rect x="612.56" y="8.70" width="6.00" height="236.30" fill="#BF9CF9"/>
<rect x="612.56" y="245.00" width="6.00" height="1.00" fill="#A6005C"/>
<rect x="615.01" y="246.90" width="1.10" height="2.90" fill="#5A5A5A"/>
<rect x="619.76" y="8.70" width="6.20" height="236.30" fill="#BF9CF9"/>
<rect x="619.76" y="245.00" width="6.20" height="1.00" fill="#17D3A9"/>
<rect x="622.31" y="246.90" width="1.10" height="2.90" fill="#5A5A5A"/>
<rect x="610.66" y="5.10" width="17.40" height="3.60" fill="#E2E2E2"/>
<rect x="611.26" y="5.10" width="16.20" height="3.60" fill="#A8A8A8"/>
<rect x="612.16" y="5.10" width="14.20" height="2.20" fill="#DEDEDE"/>
<rect x="611.26" y="7.30" width="16.20" height="1.40" fill="#57525F"/>
<rect x="629.82" y="8.70" width="17.40" height="238.10" fill="#E2E2E2"/>
<rect x="630.42" y="8.70" width="16.20" height="238.10" fill="#A8A8A8"/>
<rect x="631.32" y="8.70" width="14.20" height="237.30" fill="#F2EEFB"/>
<rect x="631.72" y="8.70" width="6.00" height="237.30" fill="#BF9CF9"/>
<rect x="634.17" y="246.90" width="1.10" height="2.90" fill="#5A5A5A"/>
<rect x="638.92" y="8.70" width="6.20" height="235.80" fill="#BF9CF9"/>
<rect x="638.92" y="244.50" width="6.20" height="1.50" fill="#7E34A6"/>
<rect x="641.47" y="246.90" width="1.10" height="2.90" fill="#5A5A5A"/>
<rect x="629.82" y="5.10" width="17.40" height="3.60" fill="#E2E2E2"/>
<rect x="630.42" y="5.10" width="16.20" height="3.60" fill="#A8A8A8"/>
<rect x="631.32" y="5.10" width="14.20" height="2.20" fill="#DEDEDE"/>
<rect x="630.42" y="7.30" width="16.20" height="1.40" fill="#57525F"/>
<rect x="648.97" y="8.70" width="17.40" height="238.10" fill="#E2E2E2"/>
<rect x="649.57" y="8.70" width="16.20" height="238.10" fill="#A8A8A8"/>
<rect x="650.47" y="8.70" width="14.20" height="237.30" fill="#F2EEFB"/>
<rect x="650.87" y="8.70" width="6.00" height="237.30" fill="#BF9CF9"/>
<rect x="653.32" y="246.90" width="1.10" height="2.90" fill="#5A5A5A"/>
<rect x="658.07" y="8.70" width="6.20" height="235.30" fill="#BF9CF9"/>
<rect x="658.07" y="244.00" width="6.20" height="1.00" fill="#F4A673"/>
<rect x="658.07" y="245.00" width="6.20" height="1.00" fill="#F8737F"/>
<rect x="660.62" y="246.90" width="1.10" height="2.90" fill="#5A5A5A"/>
<rect x="648.97" y="5.10" width="17.40" height="3.60" fill="#E2E2E2"/>
<rect x="649.57" y="5.10" width="16.20" height="3.60" fill="#A8A8A8"/>
<rect x="650.47" y="5.10" width="14.20" height="2.20" fill="#DEDEDE"/>
<rect x="649.57" y="7.30" width="16.20" height="1.40" fill="#57525F"/>
<rect x="668.13" y="8.70" width="17.40" height="238.10" fill="#E2E2E2"/>
<rect x="668.73" y="8.70" width="16.20" height="238.10" fill="#A8A8A8"/>
<rect x="669.63" y="8.70" width="14.20" height="237.30" fill="#F2EEFB"/>
<rect x="670.03" y="8.70" width="6.00" height="234.80" fill="#BF9CF9"/>
<rect x="670.03" y="243.50" width="6.00" height="2.50" fill="#F8737F"/>
<rect x="672.48" y="246.90" width="1.10" height="2.90" fill="#5A5A5A"/>
<rect x="677.23" y="8.70" width="6.20" height="237.30" fill="#BF9CF9"/>
<rect x="679.78" y="246.90" width="1.10" height="2.90" fill="#5A5A5A"/>
<rect x="668.13" y="5.10" width="17.40" height="3.60" fill="#E2E2E2"/>
<rect x="668.73" y="5.10" width="16.20" height="3.60" fill="#A8A8A8"/>
<rect x="669.63" y="5.10" width="14.20" height="2.20" fill="#DEDEDE"/>
<rect x="668.73" y="7.30" width="16.20" height="1.40" fill="#57525F"/>
<rect x="687.29" y="8.70" width="17.40" height="238.10" fill="#E2E2E2"/>
<rect x="687.89" y="8.70" width="16.20" height="238.10" fill="#A8A8A8"/>
<rect x="688.79" y="8.70" width="14.20" height="237.30" fill="#F2EEFB"/>
<rect x="689.19" y="8.70" width="6.00" height="237.30" fill="#BF9CF9"/>
<rect x="691.64" y="246.90" width="1.10" height="2.90" fill="#5A5A5A"/>
<rect x="696.39" y="8.70" width="6.20" height="236.30" fill="#BF9CF9"/>
<rect x="696.39" y="245.00" width="6.20" height="1.00" fill="#F888F5"/>
<rect x="698.94" y="246.90" width="1.10" height="2.90" fill="#5A5A5A"/>
<rect x="687.29" y="5.10" width="17.40" height="3.60" fill="#E2E2E2"/>
<rect x="687.89" y="5.10" width="16.20" height="3.60" fill="#A8A8A8"/>
<rect x="688.79" y="5.10" width="14.20" height="2.20" fill="#DEDEDE"/>
<rect x="687.89" y="7.30" width="16.20" height="1.40" fill="#57525F"/>
<rect x="706.45" y="8.70" width="17.40" height="238.10" fill="#E2E2E2"/>
<rect x="707.05" y="8.70" width="16.20" height="238.10" fill="#A8A8A8"/>
<rect x="707.95" y="8.70" width="14.20" height="237.30" fill="#F2EEFB"/>
<rect x="708.35" y="8.70" width="6.00" height="236.30" fill="#BF9CF9"/>
<rect x="708.35" y="245.00" width="6.00" height="1.00" fill="#F8737F"/>
<rect x="710.80" y="246.90" width="1.10" height="2.90" fill="#5A5A5A"/>
<rect x="715.55" y="8.70" width="6.20" height="237.30" fill="#BF9CF9"/>
<rect x="718.10" y="246.90" width="1.10" height="2.90" fill="#5A5A5A"/>
<rect x="706.45" y="5.10" width="17.40" height="3.60" fill="#E2E2E2"/>
<rect x="707.05" y="5.10" width="16.20" height="3.60" fill="#A8A8A8"/>
<rect x="707.95" y="5.10" width="14.20" height="2.20" fill="#DEDEDE"/>
<rect x="707.05" y="7.30" width="16.20" height="1.40" fill="#57525F"/>
<rect x="725.60" y="8.70" width="17.40" height="238.10" fill="#E2E2E2"/>
<rect x="726.20" y="8.70" width="16.20" height="238.10" fill="#A8A8A8"/>
<rect x="727.10" y="8.70" width="14.20" height="237.30" fill="#F2EEFB"/>
<rect x="727.50" y="8.70" width="6.00" height="233.80" fill="#BF9CF9"/>
<rect x="727.50" y="242.50" width="6.00" height="1.00" fill="#98E68E"/>
<rect x="727.50" y="243.50" width="6.00" height="2.50" fill="#F8737F"/>
<rect x="729.95" y="246.90" width="1.10" height="2.90" fill="#5A5A5A"/>
<rect x="734.70" y="8.70" width="6.20" height="237.30" fill="#BF9CF9"/>
<rect x="737.25" y="246.90" width="1.10" height="2.90" fill="#5A5A5A"/>
<rect x="725.60" y="5.10" width="17.40" height="3.60" fill="#E2E2E2"/>
<rect x="726.20" y="5.10" width="16.20" height="3.60" fill="#A8A8A8"/>
<rect x="727.10" y="5.10" width="14.20" height="2.20" fill="#DEDEDE"/>
<rect x="726.20" y="7.30" width="16.20" height="1.40" fill="#57525F"/>
<rect x="744.76" y="8.70" width="17.40" height="238.10" fill="#E2E2E2"/>
<rect x="745.36" y="8.70" width="16.20" height="238.10" fill="#A8A8A8"/>
<rect x="746.26" y="8.70" width="14.20" height="237.30" fill="#F2EEFB"/>
<rect x="746.66" y="8.70" width="6.00" height="236.30" fill="#BF9CF9"/>
<rect x="746.66" y="245.00" width="6.00" height="1.00" fill="#F8737F"/>
<rect x="749.11" y="246.90" width="1.10" height="2.90" fill="#5A5A5A"/>
<rect x="753.86" y="8.70" width="6.20" height="237.30" fill="#BF9CF9"/>
<rect x="756.41" y="246.90" width="1.10" height="2.90" fill="#5A5A5A"/>
<rect x="744.76" y="5.10" width="17.40" height="3.60" fill="#E2E2E2"/>
<rect x="745.36" y="5.10" width="16.20" height="3.60" fill="#A8A8A8"/>
<rect x="746.26" y="5.10" width="14.20" height="2.20" fill="#DEDEDE"/>
<rect x="745.36" y="7.30" width="16.20" height="1.40" fill="#57525F"/>
<rect x="763.92" y="8.70" width="17.40" height="238.10" fill="#E2E2E2"/>
<rect x="764.52" y="8.70" width="16.20" height="238.10" fill="#A8A8A8"/>
<rect x="765.42" y="8.70" width="14.20" height="237.30" fill="#F2EEFB"/>
<rect x="765.82" y="8.70" width="6.00" height="237.30" fill="#BF9CF9"/>
<rect x="768.27" y="246.90" width="1.10" height="2.90" fill="#5A5A5A"/>
<rect x="773.02" y="8.70" width="6.20" height="237.30" fill="#BF9CF9"/>
<rect x="775.57" y="246.90" width="1.10" height="2.90" fill="#5A5A5A"/>
<rect x="763.92" y="5.10" width="17.40" height="3.60" fill="#E2E2E2"/>
<rect x="764.52" y="5.10" width="16.20" height="3.60" fill="#A8A8A8"/>
<rect x="765.42" y="5.10" width="14.20" height="2.20" fill="#DEDEDE"/>
<rect x="764.52" y="7.30" width="16.20" height="1.40" fill="#57525F"/>
<rect x="33.95" y="278.00" width="17.40" height="238.00" fill="#E2E2E2"/>
<rect x="34.55" y="278.00" width="16.20" height="238.00" fill="#A8A8A8"/>
<rect x="35.45" y="278.00" width="14.20" height="237.20" fill="#F2EEFB"/>
<rect x="35.85" y="278.00" width="6.00" height="59.40" fill="#BF9CF9"/>
<rect x="35.85" y="337.40" width="6.00" height="88.80" fill="#7E34A6"/>
<rect x="35.85" y="426.20" width="6.00" height="5.70" fill="#D2821A"/>
<rect x="35.85" y="431.90" width="6.00" height="5.90" fill="#F77F42"/>
<rect x="35.85" y="437.80" width="6.00" height="14.90" fill="#17D3A9"/>
<rect x="35.85" y="452.70" width="6.00" height="1.30" fill="#12ACEF"/>
<rect x="35.85" y="454.00" width="6.00" height="4.90" fill="#F6CE7E"/>
<rect x="35.85" y="458.90" width="6.00" height="7.70" fill="#9A580C"/>
<rect x="35.85" y="466.60" width="6.00" height="17.10" fill="#F97BAA"/>
<rect x="35.85" y="483.70" width="6.00" height="7.40" fill="#E4566B"/>
<rect x="35.85" y="491.10" width="6.00" height="24.10" fill="#F8737F"/>
<rect x="43.05" y="278.00" width="6.20" height="201.50" fill="#BF9CF9"/>
<rect x="43.05" y="479.50" width="6.20" height="4.90" fill="#7E34A6"/>
<rect x="43.05" y="484.40" width="6.20" height="1.60" fill="#6E7000"/>
<rect x="43.05" y="486.00" width="6.20" height="24.40" fill="#17D3A9"/>
<rect x="43.05" y="510.40" width="6.20" height="1.60" fill="#125B16"/>
<rect x="43.05" y="512.00" width="6.20" height="3.20" fill="#F8737F"/>
<rect x="53.10" y="278.00" width="17.40" height="238.00" fill="#E2E2E2"/>
<rect x="53.70" y="278.00" width="16.20" height="238.00" fill="#A8A8A8"/>
<rect x="54.60" y="278.00" width="14.20" height="237.20" fill="#F2EEFB"/>
<rect x="55.00" y="278.00" width="6.00" height="77.00" fill="#BF9CF9"/>
<rect x="55.00" y="355.00" width="6.00" height="63.00" fill="#7E34A6"/>
<rect x="55.00" y="418.00" width="6.00" height="1.50" fill="#98E68E"/>
<rect x="55.00" y="419.50" width="6.00" height="55.70" fill="#6872EC"/>
<rect x="55.00" y="475.20" width="6.00" height="6.70" fill="#D2821A"/>
<rect x="55.00" y="481.90" width="6.00" height="5.70" fill="#12ACEF"/>
<rect x="55.00" y="487.60" width="6.00" height="14.20" fill="#F77F42"/>
<rect x="55.00" y="501.80" width="6.00" height="4.90" fill="#A6005C"/>
<rect x="55.00" y="506.70" width="6.00" height="3.30" fill="#F6CE7E"/>
<rect x="55.00" y="510.00" width="6.00" height="5.20" fill="#F8737F"/>
<rect x="62.20" y="278.00" width="6.20" height="18.80" fill="#BF9CF9"/>
<rect x="62.20" y="296.80" width="6.20" height="48.20" fill="#7E34A6"/>
<rect x="62.20" y="345.00" width="6.20" height="14.20" fill="#98E68E"/>
<rect x="62.20" y="359.20" width="6.20" height="96.20" fill="#6872EC"/>
<rect x="62.20" y="455.40" width="6.20" height="27.30" fill="#D2821A"/>
<rect x="62.20" y="482.70" width="6.20" height="2.50" fill="#12ACEF"/>
<rect x="62.20" y="485.20" width="6.20" height="13.30" fill="#F77F42"/>
<rect x="62.20" y="498.50" width="6.20" height="7.50" fill="#A6005C"/>
<rect x="62.20" y="506.00" width="6.20" height="3.50" fill="#F6CE7E"/>
<rect x="62.20" y="509.50" width="6.20" height="5.70" fill="#F8737F"/>
<rect x="72.25" y="278.00" width="17.40" height="238.00" fill="#E2E2E2"/>
<rect x="72.85" y="278.00" width="16.20" height="238.00" fill="#A8A8A8"/>
<rect x="73.75" y="278.00" width="14.20" height="237.20" fill="#F2EEFB"/>
<rect x="74.15" y="278.00" width="6.00" height="83.20" fill="#BF9CF9"/>
<rect x="74.15" y="361.20" width="6.00" height="1.30" fill="#70A82A"/>
<rect x="74.15" y="362.50" width="6.00" height="33.30" fill="#7E34A6"/>
<rect x="74.15" y="395.80" width="6.00" height="20.50" fill="#98E68E"/>
<rect x="74.15" y="416.30" width="6.00" height="22.30" fill="#6872EC"/>
<rect x="74.15" y="438.60" width="6.00" height="26.00" fill="#D2821A"/>
<rect x="74.15" y="464.60" width="6.00" height="16.60" fill="#12ACEF"/>
<rect x="74.15" y="481.20" width="6.00" height="10.60" fill="#F77F42"/>
<rect x="74.15" y="491.80" width="6.00" height="2.50" fill="#125B16"/>
<rect x="74.15" y="494.30" width="6.00" height="8.70" fill="#A6005C"/>
<rect x="74.15" y="503.00" width="6.00" height="6.20" fill="#B55C67"/>
<rect x="74.15" y="509.20" width="6.00" height="6.00" fill="#F8737F"/>
<rect x="81.35" y="278.00" width="6.20" height="44.00" fill="#BF9CF9"/>
<rect x="81.35" y="322.00" width="6.20" height="5.70" fill="#70A82A"/>
<rect x="81.35" y="327.70" width="6.20" height="31.50" fill="#7E34A6"/>
<rect x="81.35" y="359.20" width="6.20" height="61.60" fill="#98E68E"/>
<rect x="81.35" y="420.80" width="6.20" height="7.90" fill="#6872EC"/>
<rect x="81.35" y="428.70" width="6.20" height="27.70" fill="#D2821A"/>
<rect x="81.35" y="456.40" width="6.20" height="27.30" fill="#12ACEF"/>
<rect x="81.35" y="483.70" width="6.20" height="9.90" fill="#F77F42"/>
<rect x="81.35" y="493.60" width="6.20" height="3.90" fill="#125B16"/>
<rect x="81.35" y="497.50" width="6.20" height="5.50" fill="#A6005C"/>
<rect x="81.35" y="503.00" width="6.20" height="7.40" fill="#B55C67"/>
<rect x="81.35" y="510.40" width="6.20" height="4.80" fill="#F8737F"/>
<rect x="91.40" y="278.00" width="17.40" height="238.00" fill="#E2E2E2"/>
<rect x="92.00" y="278.00" width="16.20" height="238.00" fill="#A8A8A8"/>
<rect x="92.90" y="278.00" width="14.20" height="237.20" fill="#F2EEFB"/>
<rect x="93.30" y="278.00" width="6.00" height="11.80" fill="#BF9CF9"/>
<rect x="93.30" y="289.80" width="6.00" height="111.10" fill="#7E34A6"/>
<rect x="93.30" y="400.90" width="6.00" height="29.80" fill="#98E68E"/>
<rect x="93.30" y="430.70" width="6.00" height="42.10" fill="#6872EC"/>
<rect x="93.30" y="472.80" width="6.00" height="13.30" fill="#D2821A"/>
<rect x="93.30" y="486.10" width="6.00" height="13.20" fill="#12ACEF"/>
<rect x="93.30" y="499.30" width="6.00" height="1.70" fill="#70A82A"/>
<rect x="93.30" y="501.00" width="6.00" height="11.40" fill="#F888F5"/>
<rect x="93.30" y="512.40" width="6.00" height="2.80" fill="#F8737F"/>
<rect x="100.50" y="278.00" width="6.20" height="45.30" fill="#BF9CF9"/>
<rect x="100.50" y="323.30" width="6.20" height="63.10" fill="#7E34A6"/>
<rect x="100.50" y="386.40" width="6.20" height="63.30" fill="#98E68E"/>
<rect x="100.50" y="449.70" width="6.20" height="20.30" fill="#6872EC"/>
<rect x="100.50" y="470.00" width="6.20" height="21.10" fill="#D2821A"/>
<rect x="100.50" y="491.10" width="6.20" height="11.10" fill="#12ACEF"/>
<rect x="100.50" y="502.20" width="6.20" height="1.30" fill="#F77F42"/>
<rect x="100.50" y="503.50" width="6.20" height="4.90" fill="#125B16"/>
<rect x="100.50" y="508.40" width="6.20" height="3.30" fill="#F888F5"/>
<rect x="100.50" y="511.70" width="6.20" height="3.50" fill="#F8737F"/>
<rect x="110.55" y="278.00" width="17.40" height="238.00" fill="#E2E2E2"/>
<rect x="111.15" y="278.00" width="16.20" height="238.00" fill="#A8A8A8"/>
<rect x="112.05" y="278.00" width="14.20" height="237.20" fill="#F2EEFB"/>
<rect x="112.45" y="278.00" width="6.00" height="66.30" fill="#BF9CF9"/>
<rect x="112.45" y="344.30" width="6.00" height="61.60" fill="#7E34A6"/>
<rect x="112.45" y="405.90" width="6.00" height="20.30" fill="#98E68E"/>
<rect x="112.45" y="426.20" width="6.00" height="31.00" fill="#D2821A"/>
<rect x="112.45" y="457.20" width="6.00" height="6.20" fill="#12ACEF"/>
<rect x="112.45" y="463.40" width="6.00" height="4.90" fill="#F77F42"/>
<rect x="112.45" y="468.30" width="6.00" height="17.80" fill="#A6005C"/>
<rect x="112.45" y="486.10" width="6.00" height="1.90" fill="#F888F5"/>
<rect x="112.45" y="488.00" width="6.00" height="5.60" fill="#A6005C"/>
<rect x="112.45" y="493.60" width="6.00" height="10.60" fill="#F4A673"/>
<rect x="112.45" y="504.20" width="6.00" height="11.00" fill="#F8737F"/>
<rect x="119.65" y="278.00" width="6.20" height="128.90" fill="#BF9CF9"/>
<rect x="119.65" y="406.90" width="6.20" height="29.70" fill="#7E34A6"/>
<rect x="119.65" y="436.60" width="6.20" height="11.40" fill="#98E68E"/>
<rect x="119.65" y="448.00" width="6.20" height="14.10" fill="#D2821A"/>
<rect x="119.65" y="462.10" width="6.20" height="6.20" fill="#12ACEF"/>
<rect x="119.65" y="468.30" width="6.20" height="1.70" fill="#F77F42"/>
<rect x="119.65" y="470.00" width="6.20" height="16.90" fill="#A6005C"/>
<rect x="119.65" y="486.90" width="6.20" height="3.70" fill="#F888F5"/>
<rect x="119.65" y="490.60" width="6.20" height="5.40" fill="#A6005C"/>
<rect x="119.65" y="496.00" width="6.20" height="10.70" fill="#F4A673"/>
<rect x="119.65" y="506.70" width="6.20" height="8.50" fill="#F8737F"/>
<rect x="129.70" y="278.00" width="17.40" height="238.00" fill="#E2E2E2"/>
<rect x="130.30" y="278.00" width="16.20" height="238.00" fill="#A8A8A8"/>
<rect x="131.20" y="278.00" width="14.20" height="237.20" fill="#F2EEFB"/>
<rect x="131.60" y="278.00" width="6.00" height="148.20" fill="#BF9CF9"/>
<rect x="131.60" y="426.20" width="6.00" height="29.70" fill="#70A82A"/>
<rect x="131.60" y="455.90" width="6.00" height="13.10" fill="#7E34A6"/>
<rect x="131.60" y="469.00" width="6.00" height="6.70" fill="#98E68E"/>
<rect x="131.60" y="475.70" width="6.00" height="1.30" fill="#6872EC"/>
<rect x="131.60" y="477.00" width="6.00" height="9.90" fill="#D2821A"/>
<rect x="131.60" y="486.90" width="6.00" height="3.70" fill="#12ACEF"/>
<rect x="131.60" y="490.60" width="6.00" height="11.20" fill="#6E7000"/>
<rect x="131.60" y="501.80" width="6.00" height="1.70" fill="#A6005C"/>
<rect x="131.60" y="503.50" width="6.00" height="11.70" fill="#F8737F"/>
<rect x="138.80" y="278.00" width="6.20" height="94.30" fill="#BF9CF9"/>
<rect x="138.80" y="372.30" width="6.20" height="84.10" fill="#70A82A"/>
<rect x="138.80" y="456.40" width="6.20" height="20.60" fill="#7E34A6"/>
<rect x="138.80" y="477.00" width="6.20" height="2.00" fill="#98E68E"/>
<rect x="138.80" y="479.00" width="6.20" height="4.20" fill="#D2821A"/>
<rect x="138.80" y="483.20" width="6.20" height="3.70" fill="#12ACEF"/>
<rect x="138.80" y="486.90" width="6.20" height="24.80" fill="#6E7000"/>
<rect x="138.80" y="511.70" width="6.20" height="3.50" fill="#F8737F"/>
<rect x="148.85" y="278.00" width="17.40" height="238.00" fill="#E2E2E2"/>
<rect x="149.45" y="278.00" width="16.20" height="238.00" fill="#A8A8A8"/>
<rect x="150.35" y="278.00" width="14.20" height="237.20" fill="#F2EEFB"/>
<rect x="150.75" y="278.00" width="6.00" height="222.00" fill="#BF9CF9"/>
<rect x="150.75" y="500.00" width="6.00" height="9.20" fill="#98E68E"/>
<rect x="150.75" y="509.20" width="6.00" height="1.30" fill="#17D3A9"/>
<rect x="150.75" y="510.50" width="6.00" height="4.70" fill="#F888F5"/>
<rect x="157.95" y="278.00" width="6.20" height="110.40" fill="#BF9CF9"/>
<rect x="157.95" y="388.40" width="6.20" height="39.80" fill="#7E34A6"/>
<rect x="157.95" y="428.20" width="6.20" height="55.50" fill="#98E68E"/>
<rect x="157.95" y="483.70" width="6.20" height="12.30" fill="#6872EC"/>
<rect x="157.95" y="496.00" width="6.20" height="5.00" fill="#D2821A"/>
<rect x="157.95" y="501.00" width="6.20" height="2.00" fill="#125B16"/>
<rect x="157.95" y="503.00" width="6.20" height="2.00" fill="#E4566B"/>
<rect x="157.95" y="505.00" width="6.20" height="5.00" fill="#F888F5"/>
<rect x="157.95" y="510.00" width="6.20" height="5.20" fill="#F8737F"/>
<rect x="168.00" y="278.00" width="17.40" height="238.00" fill="#E2E2E2"/>
<rect x="168.60" y="278.00" width="16.20" height="238.00" fill="#A8A8A8"/>
<rect x="169.50" y="278.00" width="14.20" height="237.20" fill="#F2EEFB"/>
<rect x="169.90" y="278.00" width="6.00" height="44.00" fill="#BF9CF9"/>
<rect x="169.90" y="322.00" width="6.00" height="84.90" fill="#70A82A"/>
<rect x="169.90" y="406.90" width="6.00" height="28.70" fill="#7E34A6"/>
<rect x="169.90" y="435.60" width="6.00" height="17.90" fill="#98E68E"/>
<rect x="169.90" y="453.50" width="6.00" height="29.70" fill="#D2821A"/>
<rect x="169.90" y="483.20" width="6.00" height="7.40" fill="#12ACEF"/>
<rect x="169.90" y="490.60" width="6.00" height="1.90" fill="#F77F42"/>
<rect x="169.90" y="492.50" width="6.00" height="2.00" fill="#A6005C"/>
<rect x="169.90" y="494.50" width="6.00" height="9.70" fill="#6E7000"/>
<rect x="169.90" y="504.20" width="6.00" height="1.80" fill="#A6005C"/>
<rect x="169.90" y="506.00" width="6.00" height="9.20" fill="#F8737F"/>
<rect x="177.10" y="278.00" width="6.20" height="9.80" fill="#BF9CF9"/>
<rect x="177.10" y="287.80" width="6.20" height="131.00" fill="#70A82A"/>
<rect x="177.10" y="418.80" width="6.20" height="49.50" fill="#7E34A6"/>
<rect x="177.10" y="468.30" width="6.20" height="8.70" fill="#98E68E"/>
<rect x="177.10" y="477.00" width="6.20" height="8.20" fill="#D2821A"/>
<rect x="177.10" y="485.20" width="6.20" height="10.40" fill="#12ACEF"/>
<rect x="177.10" y="495.60" width="6.20" height="1.90" fill="#E4566B"/>
<rect x="177.10" y="497.50" width="6.20" height="10.00" fill="#6E7000"/>
<rect x="177.10" y="507.50" width="6.20" height="7.70" fill="#F8737F"/>
<rect x="30.60" y="336.25" width="3.20" height="0.90" fill="#606060"/>
<rect x="30.60" y="396.05" width="3.20" height="0.90" fill="#606060"/>
<rect x="30.60" y="456.15" width="3.20" height="0.90" fill="#606060"/>
<rect x="30.60" y="515.25" width="3.20" height="0.90" fill="#606060"/>
<rect x="236.10" y="295.70" width="15.00" height="16.40" fill="#BF9CF9"/>
<rect x="236.10" y="313.66" width="15.00" height="16.40" fill="#70A82A"/>
<rect x="236.10" y="331.62" width="15.00" height="16.40" fill="#7E34A6"/>
<rect x="236.10" y="349.58" width="15.00" height="16.40" fill="#98E68E"/>
<rect x="236.10" y="367.54" width="15.00" height="16.40" fill="#6872EC"/>
<rect x="236.10" y="385.50" width="15.00" height="16.40" fill="#D2821A"/>
<rect x="236.10" y="403.46" width="15.00" height="16.40" fill="#12ACEF"/>
<rect x="236.10" y="421.42" width="15.00" height="16.40" fill="#F77F42"/>
<rect x="236.10" y="439.38" width="15.00" height="16.40" fill="#17D3A9"/>
<rect x="236.10" y="457.34" width="15.00" height="16.40" fill="#A6005C"/>
<rect x="236.10" y="475.30" width="15.00" height="16.40" fill="#125B16"/>
<rect x="375.40" y="295.70" width="15.00" height="16.40" fill="#F888F5"/>
<rect x="375.40" y="313.66" width="15.00" height="16.40" fill="#6E7000"/>
<rect x="375.40" y="331.62" width="15.00" height="16.40" fill="#8C0055"/>
<rect x="375.40" y="349.58" width="15.00" height="16.40" fill="#F6CE7E"/>
<rect x="375.40" y="367.54" width="15.00" height="16.40" fill="#F490DC"/>
<rect x="375.40" y="385.50" width="15.00" height="16.40" fill="#9A580C"/>
<rect x="375.40" y="403.46" width="15.00" height="16.40" fill="#F97BAA"/>
<rect x="375.40" y="421.42" width="15.00" height="16.40" fill="#F4A673"/>
<rect x="375.40" y="439.38" width="15.00" height="16.40" fill="#B55C67"/>
<rect x="375.40" y="457.34" width="15.00" height="16.40" fill="#E4566B"/>
<rect x="375.40" y="475.30" width="15.00" height="16.40" fill="#F8737F"/>
<rect x="614.00" y="286.20" width="160.00" height="1.00" fill="#EEEEEE"/>
<rect x="614.00" y="331.00" width="160.00" height="1.00" fill="#EEEEEE"/>
<rect x="614.00" y="375.80" width="160.00" height="1.00" fill="#EEEEEE"/>
<rect x="614.00" y="420.60" width="160.00" height="1.00" fill="#EEEEEE"/>
<rect x="614.00" y="465.40" width="160.00" height="1.00" fill="#EEEEEE"/>
<rect x="614.00" y="510.20" width="160.00" height="1.00" fill="#EEEEEE"/>
<rect x="664.4" y="287.3" width="96.9" height="9.9" fill="#8794AE" stroke="#1B3766" stroke-width="2"/>
<line x1="712.8" y1="298.4" x2="712.8" y2="310.5" stroke="#1B3766" stroke-width="1.6"/>
<line x1="688.3" y1="310.5" x2="737.1" y2="310.5" stroke="#1B3766" stroke-width="2"/>
<circle cx="694.5" cy="286.6" r="3.0" fill="#0E2A5C"/>
<circle cx="696.5" cy="286.6" r="3.0" fill="#0E2A5C"/>
<circle cx="698.5" cy="286.6" r="3.0" fill="#0E2A5C"/>
<circle cx="700.5" cy="286.6" r="3.0" fill="#0E2A5C"/>
<circle cx="702.5" cy="286.6" r="3.0" fill="#0E2A5C"/>
<circle cx="704.5" cy="286.6" r="3.0" fill="#0E2A5C"/>
<circle cx="706.5" cy="286.6" r="3.0" fill="#0E2A5C"/>
<circle cx="708.5" cy="286.6" r="3.0" fill="#0E2A5C"/>
<circle cx="710.5" cy="286.6" r="3.0" fill="#0E2A5C"/>
<circle cx="712.5" cy="286.6" r="3.0" fill="#0E2A5C"/>
<circle cx="714.5" cy="286.6" r="3.0" fill="#0E2A5C"/>
<circle cx="716.5" cy="286.6" r="3.0" fill="#0E2A5C"/>
<circle cx="718.5" cy="286.6" r="3.0" fill="#0E2A5C"/>
<circle cx="720.5" cy="286.6" r="3.0" fill="#0E2A5C"/>
<circle cx="722.5" cy="286.6" r="3.0" fill="#0E2A5C"/>
<circle cx="724.5" cy="286.6" r="3.0" fill="#0E2A5C"/>
<circle cx="726.5" cy="286.6" r="3.0" fill="#0E2A5C"/>
<circle cx="709.2" cy="293.3" r="3.0" fill="#0E2A5C"/>
<circle cx="709" cy="296" r="3.0" fill="#0E2A5C"/>
<circle cx="717.7" cy="291.3" r="3.0" fill="#0E2A5C"/>
<circle cx="712" cy="307" r="3.0" fill="#0E2A5C"/>
<circle cx="715.5" cy="306.5" r="3.0" fill="#0E2A5C"/>
<circle cx="713.5" cy="309.5" r="3.0" fill="#0E2A5C"/>
<circle cx="714" cy="308" r="3.0" fill="#0E2A5C"/>
<circle cx="710.5" cy="315.4" r="3.0" fill="#0E2A5C"/>
<circle cx="711.4" cy="330.4" r="3.0" fill="#0E2A5C"/>
<circle cx="713.8" cy="333.6" r="3.0" fill="#0E2A5C"/>
<circle cx="712.6" cy="346.8" r="3.0" fill="#0E2A5C"/>
<circle cx="714.1" cy="350.3" r="3.0" fill="#0E2A5C"/>
<circle cx="712.1" cy="354" r="3.0" fill="#0E2A5C"/>
<circle cx="711.1" cy="369.6" r="3.0" fill="#0E2A5C"/>
<circle cx="714.6" cy="374.1" r="3.0" fill="#0E2A5C"/>
<circle cx="711.6" cy="387.7" r="3.0" fill="#0E2A5C"/>
<circle cx="713.8" cy="477.8" r="3.0" fill="#0E2A5C"/>
</g>
<text x="20.30" y="14.00" font-family="Liberation Sans" font-size="10.8" font-weight="normal" fill="#555555" text-anchor="start" textLength="13.60" lengthAdjust="spacingAndGlyphs">1.00</text>
<text x="20.30" y="59.70" font-family="Liberation Sans" font-size="10.8" font-weight="normal" fill="#555555" text-anchor="start" textLength="13.60" lengthAdjust="spacingAndGlyphs">0.75</text>
<text x="20.30" y="105.30" font-family="Liberation Sans" font-size="10.8" font-weight="normal" fill="#555555" text-anchor="start" textLength="13.60" lengthAdjust="spacingAndGlyphs">0.50</text>
<text x="20.30" y="150.50" font-family="Liberation Sans" font-size="10.8" font-weight="normal" fill="#555555" text-anchor="start" textLength="13.60" lengthAdjust="spacingAndGlyphs">0.25</text>
<text x="20.30" y="195.40" font-family="Liberation Sans" font-size="10.8" font-weight="normal" fill="#555555" text-anchor="start" textLength="13.60" lengthAdjust="spacingAndGlyphs">0.00</text>
<text x="16.70" y="280.10" font-family="Liberation Sans" font-size="9.9" font-weight="normal" fill="#555555" text-anchor="start" textLength="13.30" lengthAdjust="spacingAndGlyphs">1.00</text>
<text x="16.70" y="340.10" font-family="Liberation Sans" font-size="9.9" font-weight="normal" fill="#555555" text-anchor="start" textLength="13.30" lengthAdjust="spacingAndGlyphs">0.75</text>
<text x="16.70" y="399.90" font-family="Liberation Sans" font-size="9.9" font-weight="normal" fill="#555555" text-anchor="start" textLength="13.30" lengthAdjust="spacingAndGlyphs">0.50</text>
<text x="16.70" y="460.00" font-family="Liberation Sans" font-size="9.9" font-weight="normal" fill="#555555" text-anchor="start" textLength="13.30" lengthAdjust="spacingAndGlyphs">0.25</text>
<text x="16.70" y="519.10" font-family="Liberation Sans" font-size="9.9" font-weight="normal" fill="#555555" text-anchor="start" textLength="13.30" lengthAdjust="spacingAndGlyphs">0.00</text>
<text transform="translate(13.40,101.60) rotate(-90)" font-family="Liberation Sans" font-size="9.8" fill="#1A1A1A" text-anchor="middle" stroke="#1A1A1A" stroke-width="0.15" textLength="58.60" lengthAdjust="spacingAndGlyphs">Proportions</text>
<text transform="translate(10.50,395.40) rotate(-90)" font-family="Liberation Sans" font-size="9.0" fill="#1A1A1A" text-anchor="middle" stroke="#1A1A1A" stroke-width="0.15" textLength="57.80" lengthAdjust="spacingAndGlyphs">Proportions</text>
<text x="2.80" y="13.30" font-family="Liberation Serif" font-size="18" font-weight="bold" fill="#000" text-anchor="start">a</text>
<text x="2.20" y="282.90" font-family="Liberation Serif" font-size="16.5" font-weight="bold" fill="#000" text-anchor="start">b</text>
<text x="571.60" y="286.40" font-family="Liberation Serif" font-size="18" font-weight="bold" fill="#000" text-anchor="start">c</text>
<text x="235.70" y="289.80" font-family="Liberation Sans" font-size="11.6" font-weight="normal" fill="#111111" text-anchor="start" textLength="21.30" lengthAdjust="spacingAndGlyphs" stroke="#111111" stroke-width="0.15">Taxa</text>
<text x="254.00" y="307.40" font-family="Liberation Sans" font-size="9.6" font-weight="normal" fill="#111111" text-anchor="start" textLength="48.56" lengthAdjust="spacingAndGlyphs" stroke="#111111" stroke-width="0.18">Lactobacillus</text>
<text x="254.00" y="325.36" font-family="Liberation Sans" font-size="9.6" font-weight="normal" fill="#111111" text-anchor="start" textLength="113.93" lengthAdjust="spacingAndGlyphs" stroke="#111111" stroke-width="0.18">Lachnospiraceae_Unclassified</text>
<text x="254.00" y="343.32" font-family="Liberation Sans" font-size="9.6" font-weight="normal" fill="#111111" text-anchor="start" textLength="37.35" lengthAdjust="spacingAndGlyphs" stroke="#111111" stroke-width="0.18">Prevotella</text>
<text x="254.00" y="361.28" font-family="Liberation Sans" font-size="9.6" font-weight="normal" fill="#111111" text-anchor="start" textLength="51.36" lengthAdjust="spacingAndGlyphs" stroke="#111111" stroke-width="0.18">Megasphaera</text>
<text x="254.00" y="379.24" font-family="Liberation Sans" font-size="9.6" font-weight="normal" fill="#111111" text-anchor="start" textLength="33.16" lengthAdjust="spacingAndGlyphs" stroke="#111111" stroke-width="0.18">Sneathia</text>
<text x="254.00" y="397.20" font-family="Liberation Sans" font-size="9.6" font-weight="normal" fill="#111111" text-anchor="start" textLength="40.16" lengthAdjust="spacingAndGlyphs" stroke="#111111" stroke-width="0.18">Atopobium</text>
<text x="254.00" y="415.16" font-family="Liberation Sans" font-size="9.6" font-weight="normal" fill="#111111" text-anchor="start" textLength="118.12" lengthAdjust="spacingAndGlyphs" stroke="#111111" stroke-width="0.18">Coriobacteriaceae_Unclassified</text>
<text x="254.00" y="433.12" font-family="Liberation Sans" font-size="9.6" font-weight="normal" fill="#111111" text-anchor="start" textLength="30.34" lengthAdjust="spacingAndGlyphs" stroke="#111111" stroke-width="0.18">Dialister</text>
<text x="254.00" y="451.08" font-family="Liberation Sans" font-size="9.6" font-weight="normal" fill="#111111" text-anchor="start" textLength="45.28" lengthAdjust="spacingAndGlyphs" stroke="#111111" stroke-width="0.18">Ureaplasma</text>
<text x="254.00" y="469.04" font-family="Liberation Sans" font-size="9.6" font-weight="normal" fill="#111111" text-anchor="start" textLength="47.15" lengthAdjust="spacingAndGlyphs" stroke="#111111" stroke-width="0.18">Mycoplasma</text>
<text x="254.00" y="487.00" font-family="Liberation Sans" font-size="9.6" font-weight="normal" fill="#111111" text-anchor="start" textLength="43.88" lengthAdjust="spacingAndGlyphs" stroke="#111111" stroke-width="0.18">Aerococcus</text>
<text x="393.20" y="307.40" font-family="Liberation Sans" font-size="9.6" font-weight="normal" fill="#111111" text-anchor="start" textLength="106.00" lengthAdjust="spacingAndGlyphs" stroke="#111111" stroke-width="0.18">Veillonellaceae_Unclassified</text>
<text x="393.20" y="325.36" font-family="Liberation Sans" font-size="9.6" font-weight="normal" fill="#111111" text-anchor="start" textLength="104.58" lengthAdjust="spacingAndGlyphs" stroke="#111111" stroke-width="0.18">Proteobacteria_Unclassified</text>
<text x="393.20" y="343.32" font-family="Liberation Sans" font-size="9.6" font-weight="normal" fill="#111111" text-anchor="start" textLength="119.05" lengthAdjust="spacingAndGlyphs" stroke="#111111" stroke-width="0.18">Ruminococcaceae_Unclassified</text>
<text x="393.20" y="361.28" font-family="Liberation Sans" font-size="9.6" font-weight="normal" fill="#111111" text-anchor="start" textLength="95.70" lengthAdjust="spacingAndGlyphs" stroke="#111111" stroke-width="0.18">Clostridiales_Unclassified</text>
<text x="393.20" y="379.24" font-family="Liberation Sans" font-size="9.6" font-weight="normal" fill="#111111" text-anchor="start" textLength="105.05" lengthAdjust="spacingAndGlyphs" stroke="#111111" stroke-width="0.18">Lactobacillales_Unclassified</text>
<text x="393.20" y="397.20" font-family="Liberation Sans" font-size="9.6" font-weight="normal" fill="#111111" text-anchor="start" textLength="53.23" lengthAdjust="spacingAndGlyphs" stroke="#111111" stroke-width="0.18">Anaerococcus</text>
<text x="393.20" y="415.16" font-family="Liberation Sans" font-size="9.6" font-weight="normal" fill="#111111" text-anchor="start" textLength="56.49" lengthAdjust="spacingAndGlyphs" stroke="#111111" stroke-width="0.18">Campylobacter</text>
<text x="393.20" y="433.12" font-family="Liberation Sans" font-size="9.6" font-weight="normal" fill="#111111" text-anchor="start" textLength="42.49" lengthAdjust="spacingAndGlyphs" stroke="#111111" stroke-width="0.18">Mobiluncus</text>
<text x="393.20" y="451.08" font-family="Liberation Sans" font-size="9.6" font-weight="normal" fill="#111111" text-anchor="start" textLength="42.49" lengthAdjust="spacingAndGlyphs" stroke="#111111" stroke-width="0.18">Eggerthella</text>
<text x="393.20" y="469.04" font-family="Liberation Sans" font-size="9.6" font-weight="normal" fill="#111111" text-anchor="start" textLength="37.83" lengthAdjust="spacingAndGlyphs" stroke="#111111" stroke-width="0.18">Veillonella</text>
<text x="393.20" y="487.00" font-family="Liberation Sans" font-size="9.6" font-weight="normal" fill="#111111" text-anchor="start" textLength="25.21" lengthAdjust="spacingAndGlyphs" stroke="#111111" stroke-width="0.18">Others</text>
<text x="611.30" y="291.00" font-family="Liberation Sans" font-size="12" font-weight="normal" fill="#444444" text-anchor="end">1</text>
<text x="611.30" y="335.80" font-family="Liberation Sans" font-size="12" font-weight="normal" fill="#444444" text-anchor="end">0.9</text>
<text x="611.30" y="380.60" font-family="Liberation Sans" font-size="12" font-weight="normal" fill="#444444" text-anchor="end">0.8</text>
<text x="611.30" y="425.40" font-family="Liberation Sans" font-size="12" font-weight="normal" fill="#444444" text-anchor="end">0.7</text>
<text x="611.30" y="470.20" font-family="Liberation Sans" font-size="12" font-weight="normal" fill="#444444" text-anchor="end">0.6</text>
<text x="611.30" y="515.00" font-family="Liberation Sans" font-size="12" font-weight="normal" fill="#444444" text-anchor="end">0.5</text>
</svg></div>
</body></html>
